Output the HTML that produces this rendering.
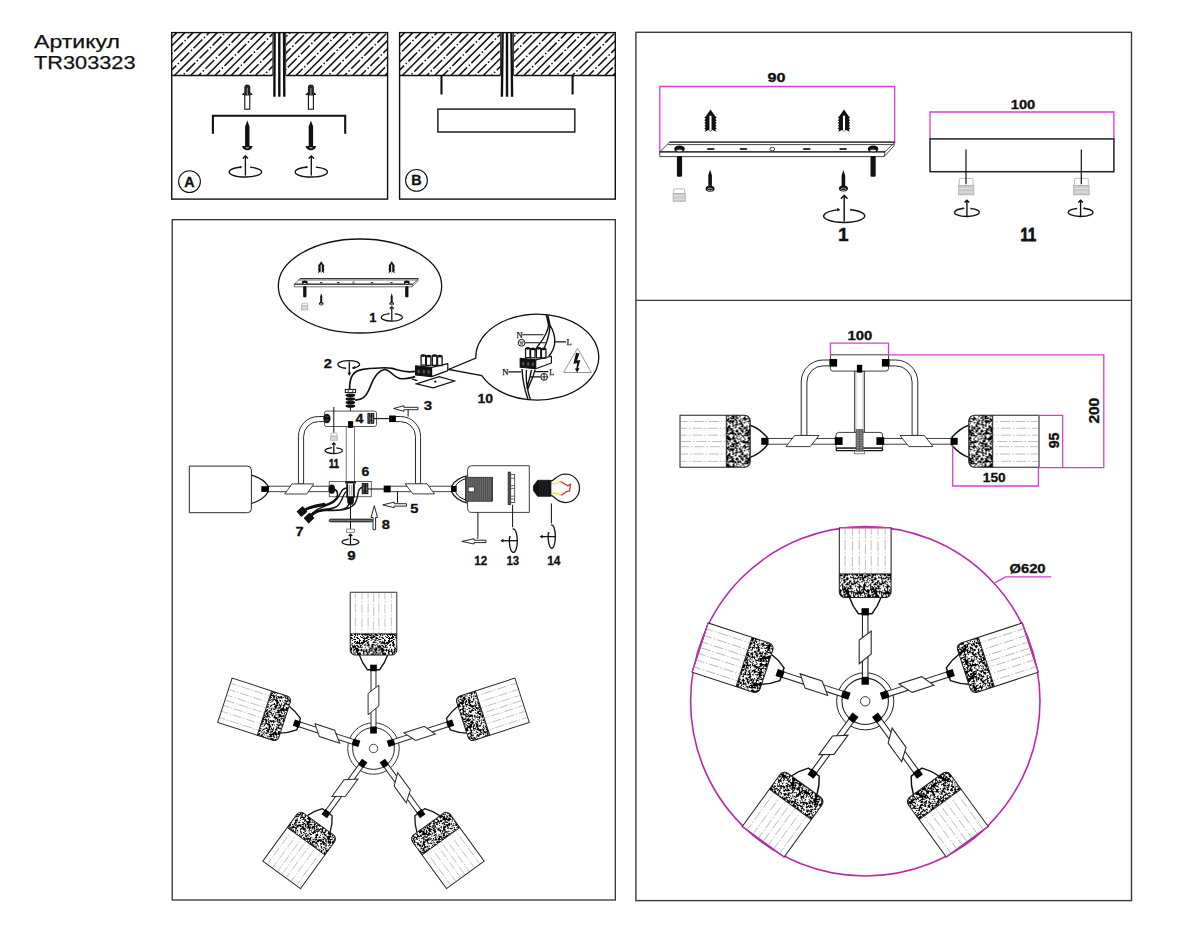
<!DOCTYPE html>
<html lang="ru"><head><meta charset="utf-8"><title>TR303323</title>
<style>html,body{margin:0;padding:0;background:#fff}svg{display:block}</style></head>
<body>
<svg width="1200" height="933" viewBox="0 0 1200 933">
<defs>
<pattern id="spk" width="28" height="28" patternUnits="userSpaceOnUse"><rect width="28" height="28" fill="#fff"/><path d="M17.4,20.8l0.4,-1.3M20.7,-2.2l0.6,0.1M20.7,25.8l0.6,0.1M-1.6,18.2l0.1,-0.1M26.4,18.2l0.1,-0.1M13.1,6.9l-0.8,-0.2M0.4,6.1l-0.2,1.3M28.4,6.1l-0.2,1.3M21.4,4.5l0.1,-0.2M17.3,3.5l1.2,0.0M5.9,6.0l1.2,-0.1M8.1,-1.1l-0.9,-0.2M8.1,26.9l-0.9,-0.2M5.7,-1.7l-0.5,-1.3M5.7,26.3l-0.5,-1.3M25.0,8.4l-0.1,0.2M4.1,1.8l-0.3,0.8M4.1,29.8l-0.3,0.8M0.1,19.0l-0.2,0.4M28.1,19.0l-0.2,0.4M22.9,13.5l-0.3,0.6M19.7,1.6l0.0,-0.0M19.7,29.6l0.0,-0.0M21.0,23.7l1.1,0.1M10.3,16.2l0.1,0.0M5.1,-1.3l0.3,1.0M5.1,26.7l0.3,1.0M-2.0,-1.6l-0.3,0.4M-2.0,26.4l-0.3,0.4M26.0,-1.6l-0.3,0.4M26.0,26.4l-0.3,0.4M14.7,21.7l0.8,0.7M22.3,24.1l1.3,0.3M2.6,9.5l-1.0,-0.8M9.5,-2.1l-0.4,-0.1M9.5,25.9l-0.4,-0.1M8.9,5.0l0.2,0.1M19.3,-0.1l0.0,0.1M19.3,27.9l0.0,0.1M-0.4,14.9l-0.3,0.2M27.6,14.9l-0.3,0.2M16.6,23.1l-0.6,0.2M1.6,-2.4l0.7,0.1M1.6,25.6l0.7,0.1M29.6,-2.4l0.7,0.1M29.6,25.6l0.7,0.1M23.5,3.7l-0.2,-1.3M17.7,22.1l0.5,0.4M4.2,23.7l-0.2,0.6M-0.0,23.9l0.6,-0.1M28.0,23.9l0.6,-0.1M13.7,20.4l-0.4,0.1M11.3,4.1l-1.0,1.0M-1.1,17.6l-0.5,0.0M26.9,17.6l-0.5,0.0M2.5,7.6l0.2,-1.2M30.5,7.6l0.2,-1.2M10.1,22.0l0.2,-1.0M18.6,21.3l-0.6,0.7M7.9,13.6l0.1,-1.0M8.2,-1.5l-0.5,-0.7M8.2,26.5l-0.5,-0.7M0.3,15.3l-0.0,0.9M28.3,15.3l-0.0,0.9M13.0,22.9l-0.7,-0.9M9.7,18.0l-0.1,-1.2M9.8,23.6l0.7,-0.7M-0.7,-1.2l-0.7,-0.1M-0.7,26.8l-0.7,-0.1M27.3,-1.2l-0.7,-0.1M27.3,26.8l-0.7,-0.1M4.7,23.4l0.6,-0.3M19.4,20.2l-0.0,-0.2M21.9,16.3l-0.3,-0.5M17.5,21.7l-0.7,-0.8M0.8,4.5l-0.8,0.3M28.8,4.5l-0.8,0.3M6.1,19.2l-0.0,-0.0M13.2,6.3l0.2,0.1M8.9,5.1l0.0,0.0M13.0,10.6l-0.6,-0.5M6.7,25.3l0.6,0.0M7.8,11.5l0.9,0.8M10.5,1.0l-0.1,-0.1M10.5,29.0l-0.1,-0.1M15.3,9.5l-1.2,-0.7M22.9,11.7l0.3,-0.8M10.3,4.0l-0.7,-0.4M-1.2,-0.9l-0.4,-0.3M-1.2,27.1l-0.4,-0.3M26.8,-0.9l-0.4,-0.3M26.8,27.1l-0.4,-0.3M25.0,0.0l0.6,0.5M25.0,28.0l0.6,0.5M17.2,3.9l-0.9,-0.9M10.5,12.1l0.1,0.4M-0.8,10.6l1.2,-0.3M27.2,10.6l1.2,-0.3M16.7,7.3l0.7,-0.1M11.6,8.9l0.7,-0.1M8.0,13.4l0.6,0.6M12.4,8.2l0.2,-1.1M0.4,14.9l-0.2,1.3M28.4,14.9l-0.2,1.3M21.9,6.9l-0.0,0.2M-0.3,8.2l-0.5,-0.4M27.7,8.2l-0.5,-0.4M18.1,16.9l-0.0,-0.2M21.3,8.4l-0.5,-0.1M8.3,14.8l-0.5,0.1M20.9,16.5l0.3,0.1M12.8,-2.3l0.6,-0.5M12.8,25.7l0.6,-0.5M0.4,21.8l-0.7,0.4M28.4,21.8l-0.7,0.4M19.8,17.7l-1.3,0.1M10.8,11.0l0.2,-0.2M8.3,23.2l1.1,0.5M19.4,12.1l-0.2,1.1M25.5,4.0l-0.8,0.1M13.9,9.3l0.5,0.7M22.7,1.9l0.1,1.1M22.7,29.9l0.1,1.1M22.2,18.6l1.0,0.2M-0.6,-0.0l-0.0,-0.1M-0.6,28.0l-0.0,-0.1M27.4,-0.0l-0.0,-0.1M27.4,28.0l-0.0,-0.1M23.6,6.1l-0.8,-1.1M19.9,3.8l-0.3,1.2M4.2,17.1l-0.2,0.1M17.4,1.2l0.4,0.3M17.4,29.2l0.4,0.3M2.0,1.6l-0.9,-0.5M2.0,29.6l-0.9,-0.5M30.0,1.6l-0.9,-0.5M30.0,29.6l-0.9,-0.5M24.6,3.8l-0.4,0.2M16.8,13.7l0.5,-0.2M1.6,19.5l0.5,0.7M29.6,19.5l0.5,0.7M14.2,25.5l-0.8,-0.3M7.4,15.4l-0.0,1.1M14.5,3.7l0.1,0.5M20.6,5.0l-0.2,-0.9M2.4,18.7l0.1,0.1M30.4,18.7l0.1,0.1M16.6,6.7l0.5,-0.5M9.1,22.3l1.0,0.2M1.5,4.2l0.9,-0.3M29.5,4.2l0.9,-0.3M6.2,3.3l0.9,-0.2M23.0,3.9l-0.4,-0.4M6.6,9.3l-0.4,-0.3M10.8,3.8l0.4,-0.8M22.5,12.1l0.4,-0.6M16.6,16.1l-0.0,-0.6M2.7,0.9l0.0,0.1M2.7,28.9l0.0,0.1M24.9,13.5l0.0,-0.0M13.2,24.9l-0.4,-0.4M13.0,2.8l0.1,0.2M10.5,10.8l0.2,-0.1M7.1,7.8l0.2,0.3M6.6,13.5l1.3,0.3M10.3,-1.7l-0.4,-0.9M10.3,26.3l-0.4,-0.9M13.2,-1.5l0.7,0.6M13.2,26.5l0.7,0.6M8.2,18.9l-0.0,-0.2M5.6,0.7l0.0,0.1M5.6,28.7l0.0,0.1M11.2,-0.7l-0.3,0.3M11.2,27.3l-0.3,0.3M13.1,7.9l-0.1,-1.0M4.6,6.7l-0.6,-1.2M18.1,12.1l0.0,-0.0M1.7,21.8l-0.1,0.0M29.7,21.8l-0.1,0.0M15.4,-0.3l-0.5,-0.1M15.4,27.7l-0.5,-0.1M2.6,2.0l0.6,-0.4M2.6,30.0l0.6,-0.4M-1.8,1.5l0.0,0.1M-1.8,29.5l0.0,0.1M26.2,1.5l0.0,0.1M26.2,29.5l0.0,0.1M11.1,1.7l-0.0,0.6M11.1,29.7l-0.0,0.6M8.6,1.4l1.3,0.3M8.6,29.4l1.3,0.3M5.0,14.2l-0.6,0.4M2.4,8.8l0.6,0.5M30.4,8.8l0.6,0.5M-2.2,16.8l0.2,-0.2M25.8,16.8l0.2,-0.2M0.5,15.1l-0.8,0.1M28.5,15.1l-0.8,0.1M10.5,17.5l-0.2,-1.3M8.6,12.6l0.1,-0.3M3.2,8.7l0.9,0.6M22.9,8.8l0.1,0.1M6.9,2.4l-0.7,0.4M6.9,30.4l-0.7,0.4M6.9,1.7l-0.0,-0.1M6.9,29.7l-0.0,-0.1M5.6,8.0l-0.1,0.1M11.8,8.8l0.0,-0.8M25.1,18.3l0.0,-0.8M12.4,22.9l-0.7,-1.1M20.4,19.6l-0.1,1.1M10.7,3.6l0.2,0.1M7.4,18.9l-0.0,0.1M21.4,15.6l0.1,0.0M3.6,10.0l0.8,-1.0M17.1,6.5l-0.5,0.2M9.3,0.3l-1.0,-0.6M9.3,28.3l-1.0,-0.6M20.4,2.7l-0.2,-0.0M19.9,12.5l1.0,-0.4M3.3,8.9l0.6,-0.3M12.2,12.4l0.1,-1.3M14.9,-0.8l-0.1,-0.1M14.9,27.2l-0.1,-0.1M22.8,11.7l1.3,0.4M0.9,16.2l-1.2,0.1M28.9,16.2l-1.2,0.1M11.0,6.0l-0.0,0.3M15.7,10.0l0.0,-0.3M9.8,7.0l1.2,-0.1M23.8,17.3l-0.2,0.1M23.3,13.7l0.2,0.1M2.8,20.1l0.2,-0.2M22.3,9.1l-0.5,-1.1M17.4,22.4l-0.0,0.0M14.3,16.4l0.2,0.5M8.9,0.8l-0.2,0.5M8.9,28.8l-0.2,0.5M13.3,19.7l-1.1,0.8M22.8,-2.1l-0.3,-0.9M22.8,25.9l-0.3,-0.9M15.0,22.4l-0.5,0.6M19.0,14.6l-0.0,0.1M2.4,10.0l-0.9,-0.5M30.4,10.0l-0.9,-0.5M20.0,8.6l0.3,-0.2M20.0,2.0l0.0,-0.9M20.0,30.0l0.0,-0.9M-1.2,25.1l-0.4,-1.1M26.8,25.1l-0.4,-1.1M20.7,17.1l0.2,0.7M25.1,6.7l0.8,-0.1M11.0,0.1l-0.2,0.2M11.0,28.1l-0.2,0.2M18.3,25.2l0.7,-0.5M10.8,3.0l-0.3,-0.7M20.0,10.5l0.2,-0.2M8.6,7.5l-0.9,-0.9M4.7,17.7l0.0,-0.3M1.8,15.8l0.6,-1.1M29.8,15.8l0.6,-1.1M20.4,11.7l-0.7,0.3M25.3,8.5l-0.2,0.8M-0.9,5.2l0.2,0.0M27.1,5.2l0.2,0.0M15.8,16.9l0.1,0.2M16.6,18.1l-0.4,-0.9M1.7,13.6l0.7,-1.2M29.7,13.6l0.7,-1.2M8.9,23.8l-0.8,-1.0M6.4,19.5l0.4,-0.6M2.8,5.4l0.1,0.1M4.3,17.2l0.8,0.6M20.6,22.9l0.3,-0.9M-2.1,-1.2l-1.0,-1.0M-2.1,26.8l-1.0,-1.0M25.9,-1.2l-1.0,-1.0M25.9,26.8l-1.0,-1.0M2.9,2.9l0.3,0.1M10.5,12.8l-0.4,-0.9M2.3,11.3l-0.5,-0.1M30.3,11.3l-0.5,-0.1M3.3,16.7l-0.7,0.7M13.9,-1.0l0.1,-0.0M13.9,27.0l0.1,-0.0M21.3,20.2l-0.0,0.2M13.4,9.9l-0.1,-1.3M10.7,8.1l-1.0,0.0M22.1,16.1l-0.1,0.5M23.7,14.5l0.6,0.2M6.7,18.7l0.3,0.2M2.7,13.4l0.8,-0.1M10.8,-1.9l0.4,0.3M10.8,26.1l0.4,0.3M22.7,0.1l0.1,-0.5M22.7,28.1l0.1,-0.5M0.5,7.0l-0.5,0.1M28.5,7.0l-0.5,0.1M14.5,1.5l0.3,1.3M14.5,29.5l0.3,1.3M12.4,13.2l0.3,0.2M-1.3,19.2l-0.1,-0.0M26.7,19.2l-0.1,-0.0M11.0,21.8l-0.8,0.3M25.3,18.1l-0.0,-0.0M0.7,21.5l-1.0,0.6M28.7,21.5l-1.0,0.6M23.1,-2.4l-1.0,1.0M23.1,25.6l-1.0,1.0M21.2,25.0l0.7,0.9M11.8,-0.8l0.3,-0.0M11.8,27.2l0.3,-0.0M11.8,7.6l-0.4,0.1M18.7,3.5l0.3,0.6M2.1,10.7l1.0,-0.7M30.1,10.7l1.0,-0.7M5.5,0.5l0.6,-1.2M5.5,28.5l0.6,-1.2M16.8,3.8l0.1,1.3M-1.7,0.9l0.2,0.6M-1.7,28.9l0.2,0.6M26.3,0.9l0.2,0.6M26.3,28.9l0.2,0.6M7.5,21.1l-0.8,0.8M4.3,14.5l1.0,-0.2M2.5,3.1l-0.3,-0.4M10.3,13.4l-1.2,-0.7M6.7,15.9l-0.1,0.8M20.5,3.7l-1.0,0.1M0.2,21.6l-0.6,0.3M28.2,21.6l-0.6,0.3M17.1,22.2l0.7,0.2M1.1,10.8l-0.0,0.0M29.1,10.8l-0.0,0.0M8.3,12.6l-0.7,-1.1M10.4,14.8l-0.3,-1.3M-1.4,-0.3l-0.1,0.2M-1.4,27.7l-0.1,0.2M26.6,-0.3l-0.1,0.2M26.6,27.7l-0.1,0.2M-1.9,2.2l-1.0,0.3M-1.9,30.2l-1.0,0.3M26.1,2.2l-1.0,0.3M26.1,30.2l-1.0,0.3M14.8,10.9l0.4,-0.2M15.4,23.2l0.3,0.4M13.8,15.8l0.2,0.6M1.7,2.5l-0.1,0.2M1.7,30.5l-0.1,0.2M29.7,2.5l-0.1,0.2M29.7,30.5l-0.1,0.2M-0.9,7.4l-0.2,1.1M27.1,7.4l-0.2,1.1M20.8,7.3l0.4,-0.8M10.9,17.6l0.0,0.4M24.5,12.3l0.2,-0.1M3.8,1.5l-0.1,-0.8M3.8,29.5l-0.1,-0.8M0.3,1.2l0.3,-0.6M0.3,29.2l0.3,-0.6M28.3,1.2l0.3,-0.6M28.3,29.2l0.3,-0.6M24.4,1.1l-0.1,-0.1M24.4,29.1l-0.1,-0.1M20.2,17.1l-0.2,-0.2M-1.4,3.1l0.9,0.4M26.6,3.1l0.9,0.4M2.6,1.9l-0.9,0.2M2.6,29.9l-0.9,0.2M25.0,20.2l0.8,0.4M23.6,3.4l0.0,-0.4M8.4,0.0l0.0,-0.7M8.4,28.0l0.0,-0.7M25.3,13.0l0.2,0.3M7.4,-1.5l0.0,0.1M7.4,26.5l0.0,0.1M9.9,2.2l-0.8,0.4M9.9,30.2l-0.8,0.4M18.2,4.9l0.4,0.5M19.2,12.5l-1.1,-0.6M4.1,7.5l-0.7,0.0M25.2,15.5l-0.3,-0.5M22.0,23.4l-0.0,0.1M7.3,10.0l0.3,-0.2M17.6,17.9l0.2,-0.0M21.6,9.4l0.7,0.5M23.6,16.3l1.3,0.4M10.8,17.8l-0.1,-0.4M11.4,9.2l0.1,0.1M20.1,11.5l0.1,-0.1M8.4,5.0l1.0,-0.4M25.1,14.2l0.5,0.4M6.3,0.8l-0.4,-0.2M6.3,28.8l-0.4,-0.2M3.0,14.3l1.2,-0.5M13.1,2.9l0.0,-0.2M15.0,2.3l0.8,-0.1M15.0,30.3l0.8,-0.1M12.2,7.6l-1.3,-0.4M12.0,5.9l-1.3,-0.1M10.7,17.7l0.4,-0.2M22.7,14.8l0.0,0.1M-1.7,13.0l-1.2,0.4M26.3,13.0l-1.2,0.4M16.1,14.0l-0.2,1.0M7.2,13.2l0.0,-0.8M3.8,5.7l-0.3,-1.0M2.9,-0.1l0.2,0.2M2.9,27.9l0.2,0.2M2.5,12.5l-0.9,-0.8M4.6,19.6l0.6,0.5M7.1,10.0l1.0,0.3M3.4,21.4l-0.4,0.7M17.9,13.7l0.9,-0.9M7.9,9.3l0.1,-0.1M11.8,11.6l0.2,-0.0M18.3,21.2l-0.0,-0.0M-1.6,8.7l0.6,-0.7M26.4,8.7l0.6,-0.7M11.8,23.5l-0.2,-0.4M20.5,14.1l-0.2,-0.8M22.3,4.5l-0.0,0.0M22.1,21.6l0.0,-0.1M15.0,13.4l0.2,0.2M-0.7,23.9l0.1,1.2M27.3,23.9l0.1,1.2M18.2,10.8l-0.2,-0.3M7.7,0.3l-0.5,-0.7M7.7,28.3l-0.5,-0.7M20.8,14.1l-0.4,0.2M20.6,10.4l-0.9,-0.6M12.4,19.2l0.3,0.1M23.5,4.1l0.0,0.0M21.5,3.0l-0.6,0.2M22.5,13.3l-0.0,-0.0M22.3,21.5l-0.8,-0.8M17.2,20.0l0.5,-0.7M0.6,24.8l0.3,-0.0M28.6,24.8l0.3,-0.0M1.8,9.5l0.4,0.3M29.8,9.5l0.4,0.3M2.5,6.2l0.6,0.0M30.5,6.2l0.6,0.0M8.4,20.4l-0.2,0.1M-1.3,25.0l-0.1,-0.3M26.7,25.0l-0.1,-0.3M11.3,12.6l-0.0,0.0M12.8,21.5l-0.4,-1.1M19.1,21.4l0.9,-0.9" stroke="#000" stroke-width="1" stroke-linecap="square" shape-rendering="crispEdges" fill="none"/></pattern>
</defs>
<rect width="1200" height="933" fill="#fff"/>
<!-- frames -->
<rect x="172.2" y="219.7" width="443.1" height="680.3" fill="none" stroke="#222" stroke-width="1.2"/>
<rect x="635.9" y="32.3" width="495.6" height="868.3" fill="none" stroke="#3a3a3a" stroke-width="1.4"/>
<path d="M635.9,300.3 H1131.5" stroke="#3a3a3a" stroke-width="1.3"/>
<!-- top-left -->
<text x="34.00" y="47.60" font-family="'Liberation Sans', sans-serif" font-size="18.43" stroke="#111" stroke-width="0.25" fill="#111" text-anchor="start" textLength="86.00" lengthAdjust="spacingAndGlyphs" >Артикул</text>

<text x="34.00" y="68.80" font-family="'Liberation Sans', sans-serif" font-size="18.86" stroke="#111" stroke-width="0.25" fill="#111" text-anchor="start" textLength="101.50" lengthAdjust="spacingAndGlyphs" >TR303323</text>

<rect x="171.7" y="32.6" width="215.9" height="166.5" fill="#fff" stroke="#111" stroke-width="1.4"/>
<clipPath id="hA"><rect x="171.70" y="32.60" width="100.90" height="42.90"/><rect x="285.90" y="32.60" width="101.70" height="42.90"/></clipPath>
<g clip-path="url(#hA)" stroke="#111" stroke-width="1.5" fill="none">
<path d="M125.80,75.50 L168.70,32.60"/>
<path d="M133.90,75.50 L176.80,32.60" stroke-dasharray="12.5 2.2 1.6 2.2" stroke-dashoffset="7"/>
<path d="M142.00,75.50 L184.90,32.60"/>
<path d="M150.10,75.50 L193.00,32.60" stroke-dasharray="12.5 2.2 1.6 2.2" stroke-dashoffset="3"/>
<path d="M158.20,75.50 L201.10,32.60"/>
<path d="M166.30,75.50 L209.20,32.60" stroke-dasharray="12.5 2.2 1.6 2.2" stroke-dashoffset="17"/>
<path d="M174.40,75.50 L217.30,32.60"/>
<path d="M182.50,75.50 L225.40,32.60" stroke-dasharray="12.5 2.2 1.6 2.2" stroke-dashoffset="13"/>
<path d="M190.60,75.50 L233.50,32.60"/>
<path d="M198.70,75.50 L241.60,32.60" stroke-dasharray="12.5 2.2 1.6 2.2" stroke-dashoffset="9"/>
<path d="M206.80,75.50 L249.70,32.60"/>
<path d="M214.90,75.50 L257.80,32.60" stroke-dasharray="12.5 2.2 1.6 2.2" stroke-dashoffset="5"/>
<path d="M223.00,75.50 L265.90,32.60"/>
<path d="M231.10,75.50 L274.00,32.60" stroke-dasharray="12.5 2.2 1.6 2.2" stroke-dashoffset="1"/>
<path d="M239.20,75.50 L282.10,32.60"/>
<path d="M247.30,75.50 L290.20,32.60" stroke-dasharray="12.5 2.2 1.6 2.2" stroke-dashoffset="15"/>
<path d="M255.40,75.50 L298.30,32.60"/>
<path d="M263.50,75.50 L306.40,32.60" stroke-dasharray="12.5 2.2 1.6 2.2" stroke-dashoffset="11"/>
<path d="M271.60,75.50 L314.50,32.60"/>
<path d="M279.70,75.50 L322.60,32.60" stroke-dasharray="12.5 2.2 1.6 2.2" stroke-dashoffset="7"/>
<path d="M287.80,75.50 L330.70,32.60"/>
<path d="M295.90,75.50 L338.80,32.60" stroke-dasharray="12.5 2.2 1.6 2.2" stroke-dashoffset="3"/>
<path d="M304.00,75.50 L346.90,32.60"/>
<path d="M312.10,75.50 L355.00,32.60" stroke-dasharray="12.5 2.2 1.6 2.2" stroke-dashoffset="17"/>
<path d="M320.20,75.50 L363.10,32.60"/>
<path d="M328.30,75.50 L371.20,32.60" stroke-dasharray="12.5 2.2 1.6 2.2" stroke-dashoffset="13"/>
<path d="M336.40,75.50 L379.30,32.60"/>
<path d="M344.50,75.50 L387.40,32.60" stroke-dasharray="12.5 2.2 1.6 2.2" stroke-dashoffset="9"/>
<path d="M352.60,75.50 L395.50,32.60"/>
<path d="M360.70,75.50 L403.60,32.60" stroke-dasharray="12.5 2.2 1.6 2.2" stroke-dashoffset="5"/>
<path d="M368.80,75.50 L411.70,32.60"/>
<path d="M376.90,75.50 L419.80,32.60" stroke-dasharray="12.5 2.2 1.6 2.2" stroke-dashoffset="1"/>
<path d="M385.00,75.50 L427.90,32.60"/>
</g>

<path d="M171.7,75.5 H272.6 M285.9,75.5 H387.6" stroke="#111" stroke-width="1.3"/>
<path d="M274.6,32.6 L274.4,96.8 M279.3,32.6 V96.8 M284.0,32.6 L284.3,96.8" stroke="#111" stroke-width="2.4" fill="none"/>
<path d="M272.9,33 V75.5 M285.7,33 V75.5" stroke="#111" stroke-width="0.9"/>
<path d="M244.30,95.40 v-8.00 a3.00,3.00 0 0 1 6.00,0 v8.00 z" fill="#222"/>
<path d="M244.30,91.90 l-2.6,3 h2.6z M250.30,91.90 l2.6,3 h-2.6z" fill="#111"/>
<rect x="244.80" y="94.90" width="5.00" height="14.30" fill="#fff" stroke="#111" stroke-width="1.1"/>
<path d="M247.30,87.90 v7" stroke="#999" stroke-width="1"/>

<path d="M247.30,120.40 L249.50,126.40 V146.00 H245.10 V126.40 z" fill="#111"/>
<path d="M242.10,146.00 h10.4 a5.2,4.20 0 0 1 -10.4,0z" fill="#111"/>
<path d="M245.80,147.80 h3" stroke="#fff" stroke-width="0.8"/>

<path d="M307.90,95.40 v-8.00 a3.00,3.00 0 0 1 6.00,0 v8.00 z" fill="#222"/>
<path d="M307.90,91.90 l-2.6,3 h2.6z M313.90,91.90 l2.6,3 h-2.6z" fill="#111"/>
<rect x="308.40" y="94.90" width="5.00" height="14.30" fill="#fff" stroke="#111" stroke-width="1.1"/>
<path d="M310.90,87.90 v7" stroke="#999" stroke-width="1"/>

<path d="M310.90,120.40 L313.10,126.40 V146.00 H308.70 V126.40 z" fill="#111"/>
<path d="M305.70,146.00 h10.4 a5.2,4.20 0 0 1 -10.4,0z" fill="#111"/>
<path d="M309.40,147.80 h3" stroke="#fff" stroke-width="0.8"/>

<path d="M212.9,133.8 V115.7 H345.2 V133.8" fill="none" stroke="#111" stroke-width="2.1"/>
<path d="M249.94,167.20 A16.20,5.00 0 1 1 240.05,167.28" fill="none" stroke="#111" stroke-width="1.35"/>
<path d="M242.39,167.08 l-2.60,-1.43 l0.20,2.86 z" fill="#111"/>
<path d="M245.40,175.60 V156.50" stroke="#111" stroke-width="1.35" fill="none"/>
<path d="M242.80,158.60 L245.40,156.00 L248.00,158.60" stroke="#111" stroke-width="1.35" fill="none" stroke-linejoin="miter"/>

<path d="M315.84,167.20 A16.20,5.00 0 1 1 305.95,167.28" fill="none" stroke="#111" stroke-width="1.35"/>
<path d="M308.29,167.08 l-2.60,-1.43 l0.20,2.86 z" fill="#111"/>
<path d="M311.30,175.60 V156.50" stroke="#111" stroke-width="1.35" fill="none"/>
<path d="M308.70,158.60 L311.30,156.00 L313.90,158.60" stroke="#111" stroke-width="1.35" fill="none" stroke-linejoin="miter"/>

<circle cx="189.50" cy="181.60" r="10.90" fill="#fff" stroke="#111" stroke-width="1.1"/>
<text x="189.50" y="186.60" font-family="'Liberation Sans', sans-serif" font-size="14.29" font-weight="bold" stroke="#111" stroke-width="0.35" fill="#111" text-anchor="middle" >A</text>

<rect x="399.6" y="32.6" width="215.7" height="166.5" fill="#fff" stroke="#111" stroke-width="1.4"/>
<clipPath id="hB"><rect x="399.60" y="32.60" width="100.70" height="42.90"/><rect x="513.60" y="32.60" width="101.70" height="42.90"/></clipPath>
<g clip-path="url(#hB)" stroke="#111" stroke-width="1.5" fill="none">
<path d="M353.70,75.50 L396.60,32.60"/>
<path d="M361.80,75.50 L404.70,32.60" stroke-dasharray="12.5 2.2 1.6 2.2" stroke-dashoffset="7"/>
<path d="M369.90,75.50 L412.80,32.60"/>
<path d="M378.00,75.50 L420.90,32.60" stroke-dasharray="12.5 2.2 1.6 2.2" stroke-dashoffset="3"/>
<path d="M386.10,75.50 L429.00,32.60"/>
<path d="M394.20,75.50 L437.10,32.60" stroke-dasharray="12.5 2.2 1.6 2.2" stroke-dashoffset="17"/>
<path d="M402.30,75.50 L445.20,32.60"/>
<path d="M410.40,75.50 L453.30,32.60" stroke-dasharray="12.5 2.2 1.6 2.2" stroke-dashoffset="13"/>
<path d="M418.50,75.50 L461.40,32.60"/>
<path d="M426.60,75.50 L469.50,32.60" stroke-dasharray="12.5 2.2 1.6 2.2" stroke-dashoffset="9"/>
<path d="M434.70,75.50 L477.60,32.60"/>
<path d="M442.80,75.50 L485.70,32.60" stroke-dasharray="12.5 2.2 1.6 2.2" stroke-dashoffset="5"/>
<path d="M450.90,75.50 L493.80,32.60"/>
<path d="M459.00,75.50 L501.90,32.60" stroke-dasharray="12.5 2.2 1.6 2.2" stroke-dashoffset="1"/>
<path d="M467.10,75.50 L510.00,32.60"/>
<path d="M475.20,75.50 L518.10,32.60" stroke-dasharray="12.5 2.2 1.6 2.2" stroke-dashoffset="15"/>
<path d="M483.30,75.50 L526.20,32.60"/>
<path d="M491.40,75.50 L534.30,32.60" stroke-dasharray="12.5 2.2 1.6 2.2" stroke-dashoffset="11"/>
<path d="M499.50,75.50 L542.40,32.60"/>
<path d="M507.60,75.50 L550.50,32.60" stroke-dasharray="12.5 2.2 1.6 2.2" stroke-dashoffset="7"/>
<path d="M515.70,75.50 L558.60,32.60"/>
<path d="M523.80,75.50 L566.70,32.60" stroke-dasharray="12.5 2.2 1.6 2.2" stroke-dashoffset="3"/>
<path d="M531.90,75.50 L574.80,32.60"/>
<path d="M540.00,75.50 L582.90,32.60" stroke-dasharray="12.5 2.2 1.6 2.2" stroke-dashoffset="17"/>
<path d="M548.10,75.50 L591.00,32.60"/>
<path d="M556.20,75.50 L599.10,32.60" stroke-dasharray="12.5 2.2 1.6 2.2" stroke-dashoffset="13"/>
<path d="M564.30,75.50 L607.20,32.60"/>
<path d="M572.40,75.50 L615.30,32.60" stroke-dasharray="12.5 2.2 1.6 2.2" stroke-dashoffset="9"/>
<path d="M580.50,75.50 L623.40,32.60"/>
<path d="M588.60,75.50 L631.50,32.60" stroke-dasharray="12.5 2.2 1.6 2.2" stroke-dashoffset="5"/>
<path d="M596.70,75.50 L639.60,32.60"/>
<path d="M604.80,75.50 L647.70,32.60" stroke-dasharray="12.5 2.2 1.6 2.2" stroke-dashoffset="1"/>
<path d="M612.90,75.50 L655.80,32.60"/>
</g>

<path d="M399.6,75.5 H500.3 M513.6,75.5 H615.3" stroke="#111" stroke-width="1.3"/>
<path d="M502.6,32.6 L501.9,96.8 M507,32.6 V96.8 M511.4,32.6 L512.1,96.8" stroke="#111" stroke-width="2.4" fill="none"/>
<path d="M500.6,33 V75.5 M513.4,33 V75.5" stroke="#111" stroke-width="0.9"/>
<path d="M441.5,75.5 V94.5 M572.6,75.5 V94.5" stroke="#111" stroke-width="2.1"/>
<rect x="437.9" y="109.1" width="136.9" height="22.9" fill="#fff" stroke="#111" stroke-width="1.4"/>
<circle cx="416.50" cy="180.40" r="10.90" fill="#fff" stroke="#111" stroke-width="1.1"/>
<text x="416.50" y="185.40" font-family="'Liberation Sans', sans-serif" font-size="14.29" font-weight="bold" stroke="#111" stroke-width="0.35" fill="#111" text-anchor="middle" >B</text>

<!-- top-right -->
<path d="M659.8,153.2 V86.5 H894.7 V143.8" fill="none" stroke="#d63cd6" stroke-width="1.3"/>
<text x="776.50" y="81.90" font-family="'Liberation Sans', sans-serif" font-size="13.29" font-weight="bold" stroke="#111" stroke-width="0.33" fill="#111" text-anchor="middle" textLength="18.0" lengthAdjust="spacingAndGlyphs">90</text>

<path d="M710.50,109.40 L715.08,116.09 L716.60,117.59 L715.26,118.81 L716.60,120.31 L715.26,121.53 L716.60,123.03 L715.26,124.26 L716.60,125.75 L715.26,126.98 L716.60,128.48 L715.26,129.70 L716.60,131.70 L712.33,130.10 L710.50,131.70 L708.67,130.10 L704.40,131.70 L705.74,129.70 L704.40,128.48 L705.74,126.98 L704.40,125.75 L705.74,124.26 L704.40,123.03 L705.74,121.53 L704.40,120.31 L705.74,118.81 L704.40,117.59 L705.92,116.09 L710.50,109.40z" fill="#111"/>
<rect x="709.46" y="115.42" width="2.07" height="15.61" rx="1.04" fill="#fff"/>

<path d="M844.00,109.40 L848.58,116.09 L850.10,117.59 L848.76,118.81 L850.10,120.31 L848.76,121.53 L850.10,123.03 L848.76,124.26 L850.10,125.75 L848.76,126.98 L850.10,128.48 L848.76,129.70 L850.10,131.70 L845.83,130.10 L844.00,131.70 L842.17,130.10 L837.90,131.70 L839.24,129.70 L837.90,128.48 L839.24,126.98 L837.90,125.75 L839.24,124.26 L837.90,123.03 L839.24,121.53 L837.90,120.31 L839.24,118.81 L837.90,117.59 L839.42,116.09 L844.00,109.40z" fill="#111"/>
<rect x="842.96" y="115.42" width="2.07" height="15.61" rx="1.04" fill="#fff"/>

<path d="M659.80,151.90 L669.50,142.10 H894.70 L885.00,151.90 z" fill="#fff" stroke="#333" stroke-width="0.90" stroke-linejoin="round"/>
<path d="M668.00,144.60 H894.70" stroke="#333" stroke-width="0.90"/>
<path d="M669.50,142.10 H894.70" stroke="#333" stroke-width="1.26"/>
<path d="M659.80,151.90 H885.00 L884.20,156.60 H659.80 z" fill="#fff" stroke="#333" stroke-width="0.90" stroke-linejoin="round"/>
<path d="M884.20,156.60 L894.70,145.10" stroke="#333" stroke-width="0.90"/>
<path d="M659.80,151.90 H885.00" stroke="#333" stroke-width="1.35"/>
<rect x="707.00" y="148.10" width="7.60" height="2.00" rx="1.00" fill="#333"/>
<rect x="739.60" y="148.10" width="7.60" height="2.00" rx="1.00" fill="#333"/>
<ellipse cx="772.30" cy="149.10" rx="2.43" ry="1.70" fill="#fff" stroke="#333" stroke-width="0.90"/>
<rect x="803.00" y="148.10" width="7.60" height="2.00" rx="1.00" fill="#333"/>
<rect x="839.30" y="148.10" width="7.60" height="2.00" rx="1.00" fill="#333"/>
<rect x="676.90" y="156.10" width="5.20" height="20.70" rx="1.30" fill="#111"/>
<ellipse cx="679.50" cy="148.90" rx="5.30" ry="3.30" fill="#111"/>
<ellipse cx="679.50" cy="150.59" rx="3.18" ry="0.99" fill="#ddd"/>
<rect x="870.50" y="156.10" width="5.20" height="20.70" rx="1.30" fill="#111"/>
<ellipse cx="873.10" cy="148.90" rx="5.30" ry="3.30" fill="#111"/>
<ellipse cx="873.10" cy="150.59" rx="3.18" ry="0.99" fill="#ddd"/>

<rect x="673.74" y="188.90" width="10.91" height="4.70" rx="0.8" fill="#fff" stroke="#b5b5b5" stroke-width="0.9"/>
<rect x="673.00" y="193.60" width="12.40" height="7.90" fill="#c9c9c9" stroke="#aaa" stroke-width="0.6"/>
<path d="M674.00,195.97 H684.40 M674.00,199.13 H684.40" stroke="#eee" stroke-width="0.7"/>

<path d="M710.10,169.50 L711.90,175.26 V188.80 H708.30 V175.26 z" fill="#111"/>
<ellipse cx="710.10" cy="188.80" rx="4.50" ry="3.00" fill="#111"/>
<ellipse cx="710.10" cy="189.55" rx="2.48" ry="1.20" fill="none" stroke="#fff" stroke-width="0.6"/>

<path d="M843.40,170.00 L845.20,175.76 V188.60 H841.60 V175.76 z" fill="#111"/>
<ellipse cx="843.40" cy="188.60" rx="4.50" ry="3.00" fill="#111"/>
<ellipse cx="843.40" cy="189.35" rx="2.48" ry="1.20" fill="none" stroke="#fff" stroke-width="0.6"/>

<path d="M849.97,209.76 A20.60,6.50 0 1 1 837.40,209.86" fill="none" stroke="#111" stroke-width="1.45"/>
<path d="M840.37,209.66 l-3.30,-1.81 l0.20,3.63 z" fill="#111"/>
<path d="M844.20,221.40 V195.90" stroke="#111" stroke-width="1.45" fill="none"/>
<path d="M840.90,198.70 L844.20,195.40 L847.50,198.70" stroke="#111" stroke-width="1.45" fill="none" stroke-linejoin="miter"/>

<text x="843.20" y="240.80" font-family="'Liberation Sans', sans-serif" font-size="19.00" font-weight="bold" stroke="#111" stroke-width="0.47" fill="#111" text-anchor="middle" >1</text>

<path d="M930.0,139 V112.0 H1113.9 V139" fill="none" stroke="#d63cd6" stroke-width="1.3"/>
<text x="1023.00" y="108.50" font-family="'Liberation Sans', sans-serif" font-size="13.14" font-weight="bold" stroke="#111" stroke-width="0.32" fill="#111" text-anchor="middle" textLength="24.6" lengthAdjust="spacingAndGlyphs">100</text>

<rect x="930.0" y="138.9" width="183.9" height="32.8" fill="#fff" stroke="#222" stroke-width="1.5"/>
<rect x="959.24" y="178.40" width="13.73" height="7.10" rx="0.8" fill="#fff" stroke="#b5b5b5" stroke-width="0.9"/>
<rect x="958.30" y="185.50" width="15.60" height="9.40" fill="#c9c9c9" stroke="#aaa" stroke-width="0.6"/>
<path d="M959.30,188.32 H972.90 M959.30,192.08 H972.90" stroke="#eee" stroke-width="0.7"/>

<path d="M966.00,149.5 V184.3" stroke="#111" stroke-width="1.2"/>
<rect x="1074.54" y="178.40" width="13.73" height="7.10" rx="0.8" fill="#fff" stroke="#b5b5b5" stroke-width="0.9"/>
<rect x="1073.60" y="185.50" width="15.60" height="9.40" fill="#c9c9c9" stroke="#aaa" stroke-width="0.6"/>
<path d="M1074.60,188.32 H1088.20 M1074.60,192.08 H1088.20" stroke="#eee" stroke-width="0.7"/>

<path d="M1081.30,149.5 V184.3" stroke="#111" stroke-width="1.2"/>
<path d="M970.37,208.46 A12.40,4.10 0 1 1 962.81,208.53" fill="none" stroke="#111" stroke-width="1.40"/>
<path d="M964.88,208.33 l-2.30,-1.26 l0.20,2.53 z" fill="#111"/>
<path d="M966.90,216.40 V200.70" stroke="#111" stroke-width="1.40" fill="none"/>
<path d="M964.60,202.50 L966.90,200.20 L969.20,202.50" stroke="#111" stroke-width="1.40" fill="none" stroke-linejoin="miter"/>

<path d="M1084.69,208.53 A12.40,4.10 0 1 1 1077.13,208.46" fill="none" stroke="#111" stroke-width="1.40"/>
<path d="M1082.62,208.33 l2.30,-1.26 l-0.20,2.53 z" fill="#111"/>
<path d="M1080.60,216.40 V200.70" stroke="#111" stroke-width="1.40" fill="none"/>
<path d="M1078.30,202.50 L1080.60,200.20 L1082.90,202.50" stroke="#111" stroke-width="1.40" fill="none" stroke-linejoin="miter"/>

<text x="1028.30" y="240.90" font-family="'Liberation Sans', sans-serif" font-size="19.00" font-weight="bold" stroke="#111" fill="#111" text-anchor="middle" textLength="15.6" lengthAdjust="spacingAndGlyphs" stroke-width="0.9">11</text>

<!-- right-bottom -->
<circle cx="865.3" cy="701.3" r="174.7" fill="none" stroke="#b92ba4" stroke-width="1.6"/>
<path d="M995.0,582.6 L1005.8,576.9 H1051.3" fill="none" stroke="#d63cd6" stroke-width="1.4"/>
<text x="1009.40" y="572.90" font-family="'Liberation Sans', sans-serif" font-size="13.14" font-weight="bold" stroke="#111" stroke-width="0.32" fill="#111" text-anchor="start" textLength="36.20" lengthAdjust="spacingAndGlyphs" >Ø620</text>

<g transform="translate(865.20,701.30) scale(1.0000)">
<circle r="28.6" fill="#fff" stroke="#222" stroke-width="1"/>
<circle r="23.2" fill="#fff" stroke="#222" stroke-width="1.1"/>
<circle r="4.7" fill="#fff" stroke="#222" stroke-width="0.9"/>
<g transform="rotate(0)">
<rect x="-2.75" y="-86.90" width="5.50" height="62.90" fill="#fff" stroke="#2a2a2a" stroke-width="1.1"/>
<path d="M6.00,-70.30 L6.00,-47.30 L-6.00,-37.50 L-6.00,-61.30z" fill="#fff" stroke="#2a2a2a" stroke-width="1.1" stroke-linejoin="miter"/>
<path d="M-15.75,-103.80 Q-12.76,-95.01 -6.75,-87.50 H6.75 Q12.76,-95.01 15.75,-103.80" fill="#fff" stroke="#111" stroke-width="1.45"/>
<path d="M-25.90,-173.60 H25.90 V-109.30 a5.50,5.50 0 0 1 -5.50,5.50 H-20.40 a5.50,5.50 0 0 1 -5.50,-5.50 z" fill="#fff"/>
<path d="M-25.90,-127.40 H25.90 V-109.30 a5.50,5.50 0 0 1 -5.50,5.50 H-20.40 a5.50,5.50 0 0 1 -5.50,-5.50 z" fill="url(#spk)"/>
<path d="M-20.12,-172.60 V-128.40" stroke="#a2a2a2" stroke-width="0.7" stroke-dasharray="10 2 1.5 2" stroke-dashoffset="4"/>
<path d="M-12.75,-172.60 V-128.40" stroke="#a2a2a2" stroke-width="0.7" stroke-dasharray="10 2 1.5 2" stroke-dashoffset="3"/>
<path d="M-5.98,-172.60 V-128.40" stroke="#a2a2a2" stroke-width="0.7" stroke-dasharray="10 2 1.5 2" stroke-dashoffset="4"/>
<path d="M0.20,-172.60 V-128.40" stroke="#a2a2a2" stroke-width="0.7" stroke-dasharray="10 2 1.5 2" stroke-dashoffset="0"/>
<path d="M5.98,-172.60 V-128.40" stroke="#a2a2a2" stroke-width="0.7" stroke-dasharray="10 2 1.5 2" stroke-dashoffset="4"/>
<path d="M12.75,-172.60 V-128.40" stroke="#a2a2a2" stroke-width="0.7" stroke-dasharray="10 2 1.5 2" stroke-dashoffset="3"/>
<path d="M19.92,-172.60 V-128.40" stroke="#a2a2a2" stroke-width="0.7" stroke-dasharray="10 2 1.5 2" stroke-dashoffset="4"/>
<path d="M-25.90,-127.40 H25.90" stroke="#222" stroke-width="1"/>
<path d="M-25.90,-173.60 H25.90 V-109.30 a5.50,5.50 0 0 1 -5.50,5.50 H-20.40 a5.50,5.50 0 0 1 -5.50,-5.50 z" fill="none" stroke="#222" stroke-width="1.05"/>
<rect x="-3.70" y="-93.10" width="7.40" height="7.20" fill="#000"/>
<rect x="-3.70" y="-24.00" width="7.40" height="7.40" fill="#000"/>

<path d="M-25.9,-173.6 H25.9" stroke="#c038b4" stroke-width="1.3"/>
</g>
<g transform="rotate(72)">
<rect x="-2.75" y="-86.90" width="5.50" height="62.90" fill="#fff" stroke="#2a2a2a" stroke-width="1.1"/>
<path d="M6.00,-70.30 L6.00,-47.30 L-6.00,-37.50 L-6.00,-61.30z" fill="#fff" stroke="#2a2a2a" stroke-width="1.1" stroke-linejoin="miter"/>
<path d="M-15.75,-103.80 Q-12.76,-95.01 -6.75,-87.50 H6.75 Q12.76,-95.01 15.75,-103.80" fill="#fff" stroke="#111" stroke-width="1.45"/>
<path d="M-25.90,-173.60 H25.90 V-109.30 a5.50,5.50 0 0 1 -5.50,5.50 H-20.40 a5.50,5.50 0 0 1 -5.50,-5.50 z" fill="#fff"/>
<path d="M-25.90,-127.40 H25.90 V-109.30 a5.50,5.50 0 0 1 -5.50,5.50 H-20.40 a5.50,5.50 0 0 1 -5.50,-5.50 z" fill="url(#spk)"/>
<path d="M-20.12,-172.60 V-128.40" stroke="#a2a2a2" stroke-width="0.7" stroke-dasharray="10 2 1.5 2" stroke-dashoffset="4"/>
<path d="M-12.75,-172.60 V-128.40" stroke="#a2a2a2" stroke-width="0.7" stroke-dasharray="10 2 1.5 2" stroke-dashoffset="3"/>
<path d="M-5.98,-172.60 V-128.40" stroke="#a2a2a2" stroke-width="0.7" stroke-dasharray="10 2 1.5 2" stroke-dashoffset="4"/>
<path d="M0.20,-172.60 V-128.40" stroke="#a2a2a2" stroke-width="0.7" stroke-dasharray="10 2 1.5 2" stroke-dashoffset="0"/>
<path d="M5.98,-172.60 V-128.40" stroke="#a2a2a2" stroke-width="0.7" stroke-dasharray="10 2 1.5 2" stroke-dashoffset="4"/>
<path d="M12.75,-172.60 V-128.40" stroke="#a2a2a2" stroke-width="0.7" stroke-dasharray="10 2 1.5 2" stroke-dashoffset="3"/>
<path d="M19.92,-172.60 V-128.40" stroke="#a2a2a2" stroke-width="0.7" stroke-dasharray="10 2 1.5 2" stroke-dashoffset="4"/>
<path d="M-25.90,-127.40 H25.90" stroke="#222" stroke-width="1"/>
<path d="M-25.90,-173.60 H25.90 V-109.30 a5.50,5.50 0 0 1 -5.50,5.50 H-20.40 a5.50,5.50 0 0 1 -5.50,-5.50 z" fill="none" stroke="#222" stroke-width="1.05"/>
<rect x="-3.70" y="-93.10" width="7.40" height="7.20" fill="#000"/>
<rect x="-3.70" y="-24.00" width="7.40" height="7.40" fill="#000"/>

<path d="M-25.9,-173.6 H25.9" stroke="#c038b4" stroke-width="1.3"/>
</g>
<g transform="rotate(144)">
<rect x="-2.75" y="-86.90" width="5.50" height="62.90" fill="#fff" stroke="#2a2a2a" stroke-width="1.1"/>
<path d="M6.00,-70.30 L6.00,-47.30 L-6.00,-37.50 L-6.00,-61.30z" fill="#fff" stroke="#2a2a2a" stroke-width="1.1" stroke-linejoin="miter"/>
<path d="M-15.75,-103.80 Q-12.76,-95.01 -6.75,-87.50 H6.75 Q12.76,-95.01 15.75,-103.80" fill="#fff" stroke="#111" stroke-width="1.45"/>
<path d="M-25.90,-173.60 H25.90 V-109.30 a5.50,5.50 0 0 1 -5.50,5.50 H-20.40 a5.50,5.50 0 0 1 -5.50,-5.50 z" fill="#fff"/>
<path d="M-25.90,-127.40 H25.90 V-109.30 a5.50,5.50 0 0 1 -5.50,5.50 H-20.40 a5.50,5.50 0 0 1 -5.50,-5.50 z" fill="url(#spk)"/>
<path d="M-20.12,-172.60 V-128.40" stroke="#a2a2a2" stroke-width="0.7" stroke-dasharray="10 2 1.5 2" stroke-dashoffset="4"/>
<path d="M-12.75,-172.60 V-128.40" stroke="#a2a2a2" stroke-width="0.7" stroke-dasharray="10 2 1.5 2" stroke-dashoffset="3"/>
<path d="M-5.98,-172.60 V-128.40" stroke="#a2a2a2" stroke-width="0.7" stroke-dasharray="10 2 1.5 2" stroke-dashoffset="4"/>
<path d="M0.20,-172.60 V-128.40" stroke="#a2a2a2" stroke-width="0.7" stroke-dasharray="10 2 1.5 2" stroke-dashoffset="0"/>
<path d="M5.98,-172.60 V-128.40" stroke="#a2a2a2" stroke-width="0.7" stroke-dasharray="10 2 1.5 2" stroke-dashoffset="4"/>
<path d="M12.75,-172.60 V-128.40" stroke="#a2a2a2" stroke-width="0.7" stroke-dasharray="10 2 1.5 2" stroke-dashoffset="3"/>
<path d="M19.92,-172.60 V-128.40" stroke="#a2a2a2" stroke-width="0.7" stroke-dasharray="10 2 1.5 2" stroke-dashoffset="4"/>
<path d="M-25.90,-127.40 H25.90" stroke="#222" stroke-width="1"/>
<path d="M-25.90,-173.60 H25.90 V-109.30 a5.50,5.50 0 0 1 -5.50,5.50 H-20.40 a5.50,5.50 0 0 1 -5.50,-5.50 z" fill="none" stroke="#222" stroke-width="1.05"/>
<rect x="-3.70" y="-93.10" width="7.40" height="7.20" fill="#000"/>
<rect x="-3.70" y="-24.00" width="7.40" height="7.40" fill="#000"/>

<path d="M-25.9,-173.6 H25.9" stroke="#c038b4" stroke-width="1.3"/>
</g>
<g transform="rotate(216)">
<rect x="-2.75" y="-86.90" width="5.50" height="62.90" fill="#fff" stroke="#2a2a2a" stroke-width="1.1"/>
<path d="M6.00,-70.30 L6.00,-47.30 L-6.00,-37.50 L-6.00,-61.30z" fill="#fff" stroke="#2a2a2a" stroke-width="1.1" stroke-linejoin="miter"/>
<path d="M-15.75,-103.80 Q-12.76,-95.01 -6.75,-87.50 H6.75 Q12.76,-95.01 15.75,-103.80" fill="#fff" stroke="#111" stroke-width="1.45"/>
<path d="M-25.90,-173.60 H25.90 V-109.30 a5.50,5.50 0 0 1 -5.50,5.50 H-20.40 a5.50,5.50 0 0 1 -5.50,-5.50 z" fill="#fff"/>
<path d="M-25.90,-127.40 H25.90 V-109.30 a5.50,5.50 0 0 1 -5.50,5.50 H-20.40 a5.50,5.50 0 0 1 -5.50,-5.50 z" fill="url(#spk)"/>
<path d="M-20.12,-172.60 V-128.40" stroke="#a2a2a2" stroke-width="0.7" stroke-dasharray="10 2 1.5 2" stroke-dashoffset="4"/>
<path d="M-12.75,-172.60 V-128.40" stroke="#a2a2a2" stroke-width="0.7" stroke-dasharray="10 2 1.5 2" stroke-dashoffset="3"/>
<path d="M-5.98,-172.60 V-128.40" stroke="#a2a2a2" stroke-width="0.7" stroke-dasharray="10 2 1.5 2" stroke-dashoffset="4"/>
<path d="M0.20,-172.60 V-128.40" stroke="#a2a2a2" stroke-width="0.7" stroke-dasharray="10 2 1.5 2" stroke-dashoffset="0"/>
<path d="M5.98,-172.60 V-128.40" stroke="#a2a2a2" stroke-width="0.7" stroke-dasharray="10 2 1.5 2" stroke-dashoffset="4"/>
<path d="M12.75,-172.60 V-128.40" stroke="#a2a2a2" stroke-width="0.7" stroke-dasharray="10 2 1.5 2" stroke-dashoffset="3"/>
<path d="M19.92,-172.60 V-128.40" stroke="#a2a2a2" stroke-width="0.7" stroke-dasharray="10 2 1.5 2" stroke-dashoffset="4"/>
<path d="M-25.90,-127.40 H25.90" stroke="#222" stroke-width="1"/>
<path d="M-25.90,-173.60 H25.90 V-109.30 a5.50,5.50 0 0 1 -5.50,5.50 H-20.40 a5.50,5.50 0 0 1 -5.50,-5.50 z" fill="none" stroke="#222" stroke-width="1.05"/>
<rect x="-3.70" y="-93.10" width="7.40" height="7.20" fill="#000"/>
<rect x="-3.70" y="-24.00" width="7.40" height="7.40" fill="#000"/>

<path d="M-25.9,-173.6 H25.9" stroke="#c038b4" stroke-width="1.3"/>
</g>
<g transform="rotate(288)">
<rect x="-2.75" y="-86.90" width="5.50" height="62.90" fill="#fff" stroke="#2a2a2a" stroke-width="1.1"/>
<path d="M6.00,-70.30 L6.00,-47.30 L-6.00,-37.50 L-6.00,-61.30z" fill="#fff" stroke="#2a2a2a" stroke-width="1.1" stroke-linejoin="miter"/>
<path d="M-15.75,-103.80 Q-12.76,-95.01 -6.75,-87.50 H6.75 Q12.76,-95.01 15.75,-103.80" fill="#fff" stroke="#111" stroke-width="1.45"/>
<path d="M-25.90,-173.60 H25.90 V-109.30 a5.50,5.50 0 0 1 -5.50,5.50 H-20.40 a5.50,5.50 0 0 1 -5.50,-5.50 z" fill="#fff"/>
<path d="M-25.90,-127.40 H25.90 V-109.30 a5.50,5.50 0 0 1 -5.50,5.50 H-20.40 a5.50,5.50 0 0 1 -5.50,-5.50 z" fill="url(#spk)"/>
<path d="M-20.12,-172.60 V-128.40" stroke="#a2a2a2" stroke-width="0.7" stroke-dasharray="10 2 1.5 2" stroke-dashoffset="4"/>
<path d="M-12.75,-172.60 V-128.40" stroke="#a2a2a2" stroke-width="0.7" stroke-dasharray="10 2 1.5 2" stroke-dashoffset="3"/>
<path d="M-5.98,-172.60 V-128.40" stroke="#a2a2a2" stroke-width="0.7" stroke-dasharray="10 2 1.5 2" stroke-dashoffset="4"/>
<path d="M0.20,-172.60 V-128.40" stroke="#a2a2a2" stroke-width="0.7" stroke-dasharray="10 2 1.5 2" stroke-dashoffset="0"/>
<path d="M5.98,-172.60 V-128.40" stroke="#a2a2a2" stroke-width="0.7" stroke-dasharray="10 2 1.5 2" stroke-dashoffset="4"/>
<path d="M12.75,-172.60 V-128.40" stroke="#a2a2a2" stroke-width="0.7" stroke-dasharray="10 2 1.5 2" stroke-dashoffset="3"/>
<path d="M19.92,-172.60 V-128.40" stroke="#a2a2a2" stroke-width="0.7" stroke-dasharray="10 2 1.5 2" stroke-dashoffset="4"/>
<path d="M-25.90,-127.40 H25.90" stroke="#222" stroke-width="1"/>
<path d="M-25.90,-173.60 H25.90 V-109.30 a5.50,5.50 0 0 1 -5.50,5.50 H-20.40 a5.50,5.50 0 0 1 -5.50,-5.50 z" fill="none" stroke="#222" stroke-width="1.05"/>
<rect x="-3.70" y="-93.10" width="7.40" height="7.20" fill="#000"/>
<rect x="-3.70" y="-24.00" width="7.40" height="7.40" fill="#000"/>

<path d="M-25.9,-173.6 H25.9" stroke="#c038b4" stroke-width="1.3"/>
</g>
</g>

<rect x="854.6" y="371" width="9.8" height="62" fill="#fff" stroke="#555" stroke-width="1.3"/>
<path d="M856.0,371 V433 M863.0,371 V433" stroke="#999" stroke-width="0.5"/>
<path d="M830.4,354.8 H888.5 V368.6 a2.5,2.5 0 0 1 -2.5,2.5 H832.9 a2.5,2.5 0 0 1 -2.5,-2.5z" fill="#fff" stroke="#2a2a2a" stroke-width="0.9"/>
<path d="M836.0,448.1 V435 a2.6,2.6 0 0 1 2.6,-2.6 H880 a2.6,2.6 0 0 1 2.6,2.6 V448.1z" fill="#fff" stroke="#2a2a2a" stroke-width="0.9"/>
<rect x="836.2" y="448.2" width="46.4" height="2.5" rx="1" fill="#fff" stroke="#111" stroke-width="1.3"/>
<rect x="856.1" y="429.7" width="6.9" height="22" fill="#8c8c8c" stroke="#444" stroke-width="0.8"/><rect x="854.4" y="451" width="10" height="2.8" fill="#fff" stroke="#666" stroke-width="0.8"/>
<path d="M856.2,432 h6.9 m-6.9,2.4 h6.9 m-6.9,2.4 h6.9 m-6.9,2.4 h6.9 m-6.9,2.4 h6.9 m-6.9,2.4 h6.9 m-6.9,2.4 h6.9 m-6.9,2.4 h6.9 m-6.9,2.4 h6.9 M859.6,429.6 V451" stroke="#444" stroke-width="0.6"/>
<rect x="767.5" y="438.4" width="68" height="5.8" fill="#fff" stroke="#2a2a2a" stroke-width="0.9"/>
<path d="M829.6,360.0 H823.2 A22,22 0 0 0 801.2,382 V435.4 H806.9 V382 A16.2,16.2 0 0 1 823.2,365.9 H829.6" fill="#fff" stroke="#2a2a2a" stroke-width="1"/>
<path d="M794.6,435.5 H819.0 L810.2,446.6 H786.0z" fill="#fff" stroke="#2a2a2a" stroke-width="0.9"/>
<g transform="translate(859.5,441.30) rotate(-90)">
<path d="M-16.10,-109.30 Q-13.04,-100.30 -4.20,-92.60 H4.20 Q13.04,-100.30 16.10,-109.30" fill="#fff" stroke="#111" stroke-width="1.45"/>
<path d="M-26.05,-179.50 H26.05 V-114.80 a5.50,5.50 0 0 1 -5.50,5.50 H-20.55 a5.50,5.50 0 0 1 -5.50,-5.50 z" fill="#fff"/>
<path d="M-26.05,-133.20 H26.05 V-114.80 a5.50,5.50 0 0 1 -5.50,5.50 H-20.55 a5.50,5.50 0 0 1 -5.50,-5.50 z" fill="url(#spk)"/>
<path d="M-20.04,-178.50 V-134.20" stroke="#a2a2a2" stroke-width="0.7" stroke-dasharray="10 2 1.5 2" stroke-dashoffset="4"/>
<path d="M-12.72,-178.50 V-134.20" stroke="#a2a2a2" stroke-width="0.7" stroke-dasharray="10 2 1.5 2" stroke-dashoffset="3"/>
<path d="M-5.41,-178.50 V-134.20" stroke="#a2a2a2" stroke-width="0.7" stroke-dasharray="10 2 1.5 2" stroke-dashoffset="2"/>
<path d="M-0.20,-178.50 V-134.20" stroke="#a2a2a2" stroke-width="0.7" stroke-dasharray="10 2 1.5 2" stroke-dashoffset="0"/>
<path d="M6.11,-178.50 V-134.20" stroke="#a2a2a2" stroke-width="0.7" stroke-dasharray="10 2 1.5 2" stroke-dashoffset="4"/>
<path d="M13.03,-178.50 V-134.20" stroke="#a2a2a2" stroke-width="0.7" stroke-dasharray="10 2 1.5 2" stroke-dashoffset="4"/>
<path d="M19.84,-178.50 V-134.20" stroke="#a2a2a2" stroke-width="0.7" stroke-dasharray="10 2 1.5 2" stroke-dashoffset="3"/>
<path d="M-26.05,-133.20 H26.05" stroke="#222" stroke-width="1"/>
<path d="M-26.05,-179.50 H26.05 V-114.80 a5.50,5.50 0 0 1 -5.50,5.50 H-20.55 a5.50,5.50 0 0 1 -5.50,-5.50 z" fill="none" stroke="#222" stroke-width="1.05"/>
<rect x="-3.50" y="-98.20" width="7.00" height="7.20" fill="#000"/>

</g>
<rect x="829.4" y="359.0" width="7.7" height="7.6" fill="#000"/>
<rect x="834.8" y="437.2" width="7.8" height="7.7" fill="#000"/>

<g transform="translate(1719,0) scale(-1,1)">
<rect x="767.5" y="438.4" width="68" height="5.8" fill="#fff" stroke="#2a2a2a" stroke-width="0.9"/>
<path d="M829.6,360.0 H823.2 A22,22 0 0 0 801.2,382 V435.4 H806.9 V382 A16.2,16.2 0 0 1 823.2,365.9 H829.6" fill="#fff" stroke="#2a2a2a" stroke-width="1"/>
<path d="M794.6,435.5 H819.0 L810.2,446.6 H786.0z" fill="#fff" stroke="#2a2a2a" stroke-width="0.9"/>
<g transform="translate(859.5,441.30) rotate(-90)">
<path d="M-16.10,-109.30 Q-13.04,-100.30 -4.20,-92.60 H4.20 Q13.04,-100.30 16.10,-109.30" fill="#fff" stroke="#111" stroke-width="1.45"/>
<path d="M-26.05,-179.50 H26.05 V-114.80 a5.50,5.50 0 0 1 -5.50,5.50 H-20.55 a5.50,5.50 0 0 1 -5.50,-5.50 z" fill="#fff"/>
<path d="M-26.05,-133.20 H26.05 V-114.80 a5.50,5.50 0 0 1 -5.50,5.50 H-20.55 a5.50,5.50 0 0 1 -5.50,-5.50 z" fill="url(#spk)"/>
<path d="M-20.04,-178.50 V-134.20" stroke="#a2a2a2" stroke-width="0.7" stroke-dasharray="10 2 1.5 2" stroke-dashoffset="4"/>
<path d="M-12.72,-178.50 V-134.20" stroke="#a2a2a2" stroke-width="0.7" stroke-dasharray="10 2 1.5 2" stroke-dashoffset="3"/>
<path d="M-5.41,-178.50 V-134.20" stroke="#a2a2a2" stroke-width="0.7" stroke-dasharray="10 2 1.5 2" stroke-dashoffset="2"/>
<path d="M-0.20,-178.50 V-134.20" stroke="#a2a2a2" stroke-width="0.7" stroke-dasharray="10 2 1.5 2" stroke-dashoffset="0"/>
<path d="M6.11,-178.50 V-134.20" stroke="#a2a2a2" stroke-width="0.7" stroke-dasharray="10 2 1.5 2" stroke-dashoffset="4"/>
<path d="M13.03,-178.50 V-134.20" stroke="#a2a2a2" stroke-width="0.7" stroke-dasharray="10 2 1.5 2" stroke-dashoffset="4"/>
<path d="M19.84,-178.50 V-134.20" stroke="#a2a2a2" stroke-width="0.7" stroke-dasharray="10 2 1.5 2" stroke-dashoffset="3"/>
<path d="M-26.05,-133.20 H26.05" stroke="#222" stroke-width="1"/>
<path d="M-26.05,-179.50 H26.05 V-114.80 a5.50,5.50 0 0 1 -5.50,5.50 H-20.55 a5.50,5.50 0 0 1 -5.50,-5.50 z" fill="none" stroke="#222" stroke-width="1.05"/>
<rect x="-3.50" y="-98.20" width="7.00" height="7.20" fill="#000"/>

</g>
<rect x="829.4" y="359.0" width="7.7" height="7.6" fill="#000"/>
<rect x="834.8" y="437.2" width="7.8" height="7.7" fill="#000"/>

</g>
<rect x="856.9" y="364.8" width="5.3" height="7.8" fill="#000"/>
<path d="M830.4,355 V343.2 H888.5 V354.8 H1103.8 V467.6 H1038.4 M1038.4,415.4 H1062.7 V467.6 M952.7,445 V486 H1038.4 V467.6" fill="none" stroke="#d63cd6" stroke-width="1.3"/>
<text x="859.90" y="339.80" font-family="'Liberation Sans', sans-serif" font-size="12.86" font-weight="bold" stroke="#111" stroke-width="0.32" fill="#111" text-anchor="middle" textLength="24.8" lengthAdjust="spacingAndGlyphs">100</text>

<text x="994.20" y="481.60" font-family="'Liberation Sans', sans-serif" font-size="13.14" font-weight="bold" stroke="#111" stroke-width="0.32" fill="#111" text-anchor="middle" textLength="22.8" lengthAdjust="spacingAndGlyphs">150</text>

<g transform="translate(1059.2,440.4) rotate(-90)"><text x="0.00" y="0.00" font-family="'Liberation Sans', sans-serif" font-size="13.71" font-weight="bold" stroke="#111" stroke-width="0.34" fill="#111" text-anchor="middle" textLength="15.8" lengthAdjust="spacingAndGlyphs">95</text>
</g>
<g transform="translate(1098.6,410.7) rotate(-90)"><text x="0.00" y="0.00" font-family="'Liberation Sans', sans-serif" font-size="13.71" font-weight="bold" stroke="#111" stroke-width="0.34" fill="#111" text-anchor="middle" textLength="25.8" lengthAdjust="spacingAndGlyphs">200</text>
</g>
<!-- left panel -->
<ellipse cx="360.0" cy="286.0" rx="81.7" ry="47.0" fill="#fff" stroke="#111" stroke-width="1.3"/>
<path d="M321.20,261.20 L323.60,264.86 L324.40,265.58 L323.70,266.17 L324.40,266.89 L323.70,267.48 L324.40,268.20 L323.70,268.78 L324.40,269.50 L323.70,270.09 L324.40,270.81 L323.70,271.40 L324.40,273.40 L322.16,271.80 L321.20,273.40 L320.24,271.80 L318.00,273.40 L318.70,271.40 L318.00,270.81 L318.70,270.09 L318.00,269.50 L318.70,268.78 L318.00,268.20 L318.70,267.48 L318.00,266.89 L318.70,266.17 L318.00,265.58 L318.80,264.86 L321.20,261.20z" fill="#111"/>
<rect x="320.66" y="264.49" width="1.09" height="8.54" rx="0.54" fill="#fff"/>

<path d="M391.70,261.20 L394.10,264.86 L394.90,265.58 L394.20,266.17 L394.90,266.89 L394.20,267.48 L394.90,268.20 L394.20,268.78 L394.90,269.50 L394.20,270.09 L394.90,270.81 L394.20,271.40 L394.90,273.40 L392.66,271.80 L391.70,273.40 L390.74,271.80 L388.50,273.40 L389.20,271.40 L388.50,270.81 L389.20,270.09 L388.50,269.50 L389.20,268.78 L388.50,268.20 L389.20,267.48 L388.50,266.89 L389.20,266.17 L388.50,265.58 L389.30,264.86 L391.70,261.20z" fill="#111"/>
<rect x="391.16" y="264.49" width="1.09" height="8.54" rx="0.54" fill="#fff"/>

<path d="M294.30,284.20 L300.10,278.60 H418.40 L412.60,284.20 z" fill="#fff" stroke="#333" stroke-width="0.70" stroke-linejoin="round"/>
<path d="M298.60,280.00 H418.40" stroke="#333" stroke-width="0.70"/>
<path d="M300.10,278.60 H418.40" stroke="#333" stroke-width="0.98"/>
<path d="M294.30,284.20 H412.60 L411.80,286.80 H294.30 z" fill="#fff" stroke="#333" stroke-width="0.70" stroke-linejoin="round"/>
<path d="M411.80,286.80 L418.40,280.50" stroke="#333" stroke-width="0.70"/>
<path d="M294.30,284.20 H412.60" stroke="#333" stroke-width="1.05"/>
<rect x="319.90" y="282.00" width="2.60" height="1.20" rx="0.60" fill="#333"/>
<rect x="337.00" y="282.00" width="2.60" height="1.20" rx="0.60" fill="#333"/>
<ellipse cx="353.50" cy="282.60" rx="0.83" ry="1.02" fill="#fff" stroke="#333" stroke-width="0.70"/>
<rect x="370.70" y="282.00" width="2.60" height="1.20" rx="0.60" fill="#333"/>
<rect x="390.20" y="282.00" width="2.60" height="1.20" rx="0.60" fill="#333"/>
<rect x="303.15" y="286.30" width="3.30" height="10.90" rx="0.82" fill="#111"/>
<ellipse cx="304.80" cy="282.40" rx="2.90" ry="1.90" fill="#111"/>
<ellipse cx="304.80" cy="283.46" rx="1.74" ry="0.57" fill="#ddd"/>
<rect x="405.15" y="286.30" width="3.30" height="10.90" rx="0.82" fill="#111"/>
<ellipse cx="406.80" cy="282.40" rx="2.90" ry="1.90" fill="#111"/>
<ellipse cx="406.80" cy="283.46" rx="1.74" ry="0.57" fill="#ddd"/>

<rect x="301.98" y="303.20" width="5.54" height="2.60" rx="0.8" fill="#fff" stroke="#b5b5b5" stroke-width="0.9"/>
<rect x="301.60" y="305.80" width="6.30" height="4.20" fill="#c9c9c9" stroke="#aaa" stroke-width="0.6"/>
<path d="M302.60,307.06 H306.90 M302.60,308.74 H306.90" stroke="#eee" stroke-width="0.7"/>

<path d="M321.20,293.20 L322.20,296.40 V303.80 H320.20 V296.40 z" fill="#111"/>
<ellipse cx="321.20" cy="303.80" rx="2.40" ry="1.70" fill="#111"/>
<ellipse cx="321.20" cy="304.23" rx="1.32" ry="0.68" fill="none" stroke="#fff" stroke-width="0.6"/>

<path d="M391.70,293.20 L392.70,296.40 V303.80 H390.70 V296.40 z" fill="#111"/>
<ellipse cx="391.70" cy="303.80" rx="2.40" ry="1.70" fill="#111"/>
<ellipse cx="391.70" cy="304.23" rx="1.32" ry="0.68" fill="none" stroke="#fff" stroke-width="0.6"/>

<path d="M394.77,313.85 A10.60,3.70 0 1 1 388.30,313.91" fill="none" stroke="#111" stroke-width="1.25"/>
<path d="M390.10,313.71 l-2.00,-1.10 l0.20,2.20 z" fill="#111"/>
<path d="M391.80,320.90 V307.30" stroke="#111" stroke-width="1.25" fill="none"/>
<path d="M389.80,308.80 L391.80,306.80 L393.80,308.80" stroke="#111" stroke-width="1.25" fill="none" stroke-linejoin="miter"/>

<text x="372.90" y="321.80" font-family="'Liberation Sans', sans-serif" font-size="12.86" font-weight="bold" stroke="#111" stroke-width="0.32" fill="#111" text-anchor="middle" >1</text>

<path d="M475.8,358.0 A61.5,43 0 1 1 481.8,375.7 L448.6,369.4 Z" fill="#fff" stroke="#111" stroke-width="1.3" stroke-linejoin="miter"/>
<clipPath id="c10"><ellipse cx="537" cy="357" rx="61" ry="42.5"/></clipPath>
<g clip-path="url(#c10)">
<path d="M545.6,312 L548.6,325 C547,338 538,344 534.6,351 M547.2,312 L550,325 C549.5,338 545.5,345 543,351 M550,325 C557.5,338 555,349 548.7,356.5" fill="none" stroke="#111" stroke-width="1.4"/>
<path d="M522,369 C522.5,380 524.5,390 528.6,401 M526.5,370 C525.5,382 527.5,392 531,401 M531.5,370 C530,378 527.8,384 526.8,388 M535,369.5 C533.5,378 529,384 527.6,390" fill="none" stroke="#111" stroke-width="1.4"/>
</g>
<path d="M522.2,334.7 H543.5 M525.2,342.8 H545.5 M554.6,341.9 H566 M508.2,371.9 H521 M535,371.6 H548.4 M530,376.9 H540.4" stroke="#111" stroke-width="1.1"/>
<text x="516.60" y="337.60" font-family="'Liberation Serif', sans-serif" font-size="8.57" stroke="#111" stroke-width="0.25" fill="#111" text-anchor="start" >N</text>

<text x="566.60" y="344.80" font-family="'Liberation Serif', sans-serif" font-size="8.57" stroke="#111" stroke-width="0.25" fill="#111" text-anchor="start" >L</text>

<text x="502.20" y="375.00" font-family="'Liberation Serif', sans-serif" font-size="8.57" stroke="#111" stroke-width="0.25" fill="#111" text-anchor="start" >N</text>

<text x="549.20" y="375.20" font-family="'Liberation Serif', sans-serif" font-size="8.00" stroke="#111" stroke-width="0.25" fill="#111" text-anchor="start" >L</text>

<circle cx="521.6" cy="342.8" r="3.4" fill="#fff" stroke="#111" stroke-width="1"/><path d="M519.4,342.1 h4.4 M520.2,343.9 h2.8" stroke="#111" stroke-width="0.9"/>
<circle cx="544.1" cy="376.9" r="3.4" fill="#fff" stroke="#111" stroke-width="1"/><path d="M541.2,376.9 h5.8 M544.1,374 v5.8" stroke="#111" stroke-width="0.9"/>
<g transform="translate(520.20,367.60) scale(0.970)">
<path d="M0,-9.5 L16,-8 L32.2,-11.7 L32.2,-4.8 L16,1.2 L0,-0.4z" fill="#fff" stroke="#111" stroke-width="1.2" stroke-linejoin="round"/>
<path d="M0,-9.5 L16,-8 L16,1.2 L0,-0.4z" fill="#111"/>
<path d="M16,-8 V1.2" stroke="#111" stroke-width="1.2"/>
<ellipse cx="3.20" cy="-4.01" rx="1.2" ry="2" fill="#555"/>
<ellipse cx="8.20" cy="-3.71" rx="1.2" ry="2" fill="#555"/>
<ellipse cx="13.00" cy="-3.42" rx="1.2" ry="2" fill="#555"/>
<path d="M5.50,-10.20 V-19.40 a2.3,1.2 0 0 1 4.6,0 V-10.20 z" fill="#fff" stroke="#111" stroke-width="1.3"/>
<ellipse cx="7.80" cy="-19.60" rx="2.3" ry="1.1" fill="#111"/>
<path d="M10.70,-10.10 V-18.80 a2.3,1.2 0 0 1 4.6,0 V-10.10 z" fill="#fff" stroke="#111" stroke-width="1.3"/>
<ellipse cx="13.00" cy="-19.00" rx="2.3" ry="1.1" fill="#111"/>
<path d="M16.70,-10.00 V-19.40 a2.3,1.2 0 0 1 4.6,0 V-10.00 z" fill="#fff" stroke="#111" stroke-width="1.3"/>
<ellipse cx="19.00" cy="-19.60" rx="2.3" ry="1.1" fill="#111"/>
<path d="M21.90,-9.90 V-18.80 a2.3,1.2 0 0 1 4.6,0 V-9.90 z" fill="#fff" stroke="#111" stroke-width="1.3"/>
<ellipse cx="24.20" cy="-19.00" rx="2.3" ry="1.1" fill="#111"/>
</g>

<path d="M577.5,348.2 L563.6,372.5 H591.4z" fill="#fff" stroke="#8a8a8a" stroke-width="0.9" stroke-linejoin="miter"/>
<path d="M576.0,352.8 L579.4,353.6 L576.9,360.4 L580.3,360.0 L577.9,368.2 L579.6,368.0 L577.2,372.6 L574.8,368.6 L576.3,368.6 L577.2,363.3 L573.4,363.8z" fill="#111"/>
<text x="485.20" y="403.30" font-family="'Liberation Sans', sans-serif" font-size="13.14" font-weight="bold" stroke="#111" stroke-width="0.32" fill="#111" text-anchor="middle" textLength="15.6" lengthAdjust="spacingAndGlyphs">10</text>

<path d="M349.6,389.5 C349.5,377 353,370.5 363,369.3 C376,367.8 386,367 392,368.4 C399,370 404,373.3 415.6,371.4 M355.2,400.2 C364,400 367.5,394 370.5,386 C374,377 378,370.5 384.5,369.5 C390,369.3 392,376 399,378.2 C405,380 411,377.5 415.2,376.6" fill="none" stroke="#111" stroke-width="1.7"/>
<path d="M411.8,378.8 L417.3,380.6" stroke="#111" stroke-width="1.3"/>
<path d="M416.5,383.9 L439.2,376.7 L454.5,381 L433.2,387.9z" fill="#fff" stroke="#111" stroke-width="1.2" stroke-linejoin="miter"/><circle cx="435.3" cy="381.7" r="1.1" fill="#111"/>
<g transform="translate(415.60,375.40) scale(1.000)">
<path d="M0,-9.5 L16,-8 L32.2,-11.7 L32.2,-4.8 L16,1.2 L0,-0.4z" fill="#fff" stroke="#111" stroke-width="1.2" stroke-linejoin="round"/>
<path d="M0,-9.5 L16,-8 L16,1.2 L0,-0.4z" fill="#111"/>
<path d="M16,-8 V1.2" stroke="#111" stroke-width="1.2"/>
<ellipse cx="3.20" cy="-4.01" rx="1.2" ry="2" fill="#555"/>
<ellipse cx="8.20" cy="-3.71" rx="1.2" ry="2" fill="#555"/>
<ellipse cx="13.00" cy="-3.42" rx="1.2" ry="2" fill="#555"/>
<path d="M5.50,-10.20 V-19.40 a2.3,1.2 0 0 1 4.6,0 V-10.20 z" fill="#fff" stroke="#111" stroke-width="1.3"/>
<ellipse cx="7.80" cy="-19.60" rx="2.3" ry="1.1" fill="#111"/>
<path d="M10.70,-10.10 V-18.80 a2.3,1.2 0 0 1 4.6,0 V-10.10 z" fill="#fff" stroke="#111" stroke-width="1.3"/>
<ellipse cx="13.00" cy="-19.00" rx="2.3" ry="1.1" fill="#111"/>
<path d="M16.70,-10.00 V-19.40 a2.3,1.2 0 0 1 4.6,0 V-10.00 z" fill="#fff" stroke="#111" stroke-width="1.3"/>
<ellipse cx="19.00" cy="-19.60" rx="2.3" ry="1.1" fill="#111"/>
<path d="M21.90,-9.90 V-18.80 a2.3,1.2 0 0 1 4.6,0 V-9.90 z" fill="#fff" stroke="#111" stroke-width="1.3"/>
<ellipse cx="24.20" cy="-19.00" rx="2.3" ry="1.1" fill="#111"/>
</g>

<text x="327.80" y="368.30" font-family="'Liberation Sans', sans-serif" font-size="12.57" font-weight="bold" stroke="#111" stroke-width="0.31" fill="#111" text-anchor="middle" textLength="8.18" lengthAdjust="spacingAndGlyphs" >2</text>

<path d="M346.2,368.25 A10.9,3.9 0 1 1 352.6,368.1" fill="none" stroke="#111" stroke-width="1.35"/><path d="M351.6,367.9 l3.4,-1.9 l0.2,3.2z" fill="#111"/>
<path d="M349.3,361.6 V373.5" stroke="#111" stroke-width="1.3"/><path d="M349.3,376.0 l-1.9,-3.4 h3.8z" fill="#111"/>
<path d="M350.4,407 V422" stroke="#111" stroke-width="1"/>
<rect x="345.3" y="389.4" width="10.3" height="3.2" fill="#fff" stroke="#111" stroke-width="1"/><path d="M348.2,389.4 v3.2 M352.8,389.4 v3.2" stroke="#111" stroke-width="0.8"/>
<ellipse cx="350.4" cy="395.20" rx="4.9" ry="1.75" fill="#111"/>
<ellipse cx="350.4" cy="398.90" rx="4.9" ry="1.75" fill="#111"/>
<ellipse cx="350.4" cy="402.60" rx="4.9" ry="1.75" fill="#111"/>
<ellipse cx="350.4" cy="405.90" rx="4.9" ry="1.75" fill="#111"/>
<rect x="346.2" y="426" width="8.3" height="56" fill="#fff" stroke="#555" stroke-width="0.8"/>
<rect x="324.5" y="411.1" width="52.0" height="15.4" rx="2" fill="#fff" stroke="#444" stroke-width="0.9"/>
<path d="M324,416.5 H318.5 A20,20 0 0 0 298.4,436.5 V484 H303.6 V436.5 A15,15 0 0 1 318.5,421.6 H324" fill="#fff" stroke="#2a2a2a" stroke-width="1"/>
<path d="M395.5,416.5 H400.5 A20,20 0 0 1 420.6,436.5 V484 H415.5 V436.5 A15,15 0 0 0 400.5,421.6 H395.5" fill="#fff" stroke="#2a2a2a" stroke-width="1"/>
<rect x="268.4" y="486.2" width="61" height="5.5" fill="#fff" stroke="#2a2a2a" stroke-width="0.9"/>
<rect x="390" y="486.2" width="62" height="5.5" fill="#fff" stroke="#2a2a2a" stroke-width="0.9"/>
<path d="M292.0,483.9 H313.8 L306.8,494.0 H284.6z" fill="#fff" stroke="#2a2a2a" stroke-width="0.9"/>
<path d="M405.1,483.8 H427.0 L434.5,493.9 H412.8z" fill="#fff" stroke="#2a2a2a" stroke-width="0.9"/>
<ellipse cx="326.9" cy="418.5" rx="3.6" ry="4.8" fill="#111"/><path d="M325,416.3 h3.6 M325,420.6 h3.6" stroke="#777" stroke-width="0.6"/>
<path d="M333.8,407 V436.5" stroke="#111" stroke-width="1"/>
<rect x="331.00" y="433.00" width="5.90" height="3.20" rx="0.8" fill="#fff" stroke="#b5b5b5" stroke-width="0.9"/>
<rect x="330.60" y="436.20" width="6.70" height="4.20" fill="#c9c9c9" stroke="#aaa" stroke-width="0.6"/>
<path d="M331.60,437.46 H336.30 M331.60,439.14 H336.30" stroke="#eee" stroke-width="0.7"/>

<rect x="348.1" y="421.1" width="5.0" height="6.8" fill="#000"/>
<text x="359.40" y="422.90" font-family="'Liberation Sans', sans-serif" font-size="12.29" font-weight="bold" stroke="#111" stroke-width="0.30" fill="#111" text-anchor="middle" textLength="8.00" lengthAdjust="spacingAndGlyphs" >4</text>

<rect x="368.0" y="413.6" width="2.0" height="9.6" fill="#888" stroke="#111" stroke-width="1.1"/><rect x="371.4" y="413.6" width="2.3" height="9.6" fill="#888" stroke="#111" stroke-width="1.1"/><path d="M369,416 h4 M369,420.8 h4" stroke="#111" stroke-width="0.8"/>
<path d="M374,418.6 H389.5" stroke="#111" stroke-width="1.1"/>
<rect x="389.1" y="415.5" width="6.8" height="6.6" fill="#000"/>
<path d="M393.60,408.50 L403.90,405.70 V407.30 H418.00 V409.70 H403.90 V411.30 z" fill="#fff" stroke="#111" stroke-width="0.9" stroke-linejoin="miter"/>

<path d="M408.1,410 V416.5" stroke="#111" stroke-width="1"/>
<text x="427.90" y="409.90" font-family="'Liberation Sans', sans-serif" font-size="12.86" font-weight="bold" stroke="#111" stroke-width="0.32" fill="#111" text-anchor="middle" textLength="8.37" lengthAdjust="spacingAndGlyphs" >3</text>

<path d="M336.24,447.82 A8.70,2.90 0 1 1 330.93,447.86" fill="none" stroke="#111" stroke-width="1.25"/>
<path d="M332.55,447.66 l-1.80,-0.99 l0.20,1.98 z" fill="#111"/>
<path d="M333.80,453.30 V443.40" stroke="#111" stroke-width="1.25" fill="none"/>
<path d="M332.00,444.70 L333.80,442.90 L335.60,444.70" stroke="#111" stroke-width="1.25" fill="none" stroke-linejoin="miter"/>

<text x="334.00" y="468.10" font-family="'Liberation Sans', sans-serif" font-size="12.14" font-weight="bold" stroke="#111" fill="#111" text-anchor="middle" textLength="9.9" lengthAdjust="spacingAndGlyphs" stroke-width="0.6">11</text>

<text x="365.40" y="476.20" font-family="'Liberation Sans', sans-serif" font-size="12.00" font-weight="bold" stroke="#111" stroke-width="0.29" fill="#111" text-anchor="middle" textLength="7.81" lengthAdjust="spacingAndGlyphs" >6</text>

<rect x="329.3" y="481.5" width="42.0" height="15.2" fill="#fff" stroke="#555" stroke-width="0.9"/>
<path d="M334,489 C340,492 338,499 330,503 C322,507 312,506 303,511 M347,488 C340,488 341,497 334,502 C326,507 314,508 309.5,517 M347,491 C342,494 343,503 336,507 C330,510 320,509 312,514 M349.5,503 C348,509 340,511 331,510 C322,509 316,511 311,516 M362.5,487.5 C357.5,488 358.5,494 356.5,500 C354,510 340,511 328,510.5" fill="none" stroke="#111" stroke-width="1.4"/>
<path d="M303.5,510.6 C309,506.5 316,505.6 324,504.2 M310.5,516.6 C314,511 321,509.6 329,509.6" fill="none" stroke="#111" stroke-width="2.7" stroke-linecap="round"/>
<path d="M297.6,511.6 L302.6,507.2 L306.4,511.6 L301.4,516.0z M304.8,518.2 L309.6,513.6 L313.4,518.0 L308.6,522.6z" fill="#111" stroke="#111" stroke-width="1.6" stroke-linejoin="round"/>
<ellipse cx="331.8" cy="489.2" rx="3.3" ry="4.6" fill="#111"/>
<rect x="345.3" y="481.4" width="10.6" height="2.2" fill="#111"/>
<path d="M347.2,483.6 V497.2 H353.9 V483.6" fill="#fff" stroke="#111" stroke-width="1.8"/>
<path d="M349.4,485 V495.5 M351.8,485 V495.5" stroke="#444" stroke-width="0.6"/>
<path d="M347.2,497 H353.9 V502 L352.6,504.8 H348.5 L347.2,502z" fill="#111"/>
<path d="M350.5,504.5 V529" stroke="#111" stroke-width="1"/>
<rect x="362.3" y="483.6" width="2.0" height="10" fill="#888" stroke="#111" stroke-width="1.1"/><rect x="365.6" y="483.6" width="2.2" height="10" fill="#888" stroke="#111" stroke-width="1.1"/><path d="M363,486 h4.5 M363,491 h4.5" stroke="#111" stroke-width="0.8"/>
<path d="M368,489 H384" stroke="#111" stroke-width="1.1"/>
<rect x="383.7" y="485.6" width="6.8" height="6.8" fill="#000"/>
<path d="M397.5,491.7 V502.8" stroke="#111" stroke-width="1"/>
<path d="M382.70,504.90 L394.20,502.10 V503.70 H406.50 V506.10 H394.20 V507.70 z" fill="#fff" stroke="#111" stroke-width="0.9" stroke-linejoin="miter"/>

<text x="414.40" y="513.40" font-family="'Liberation Sans', sans-serif" font-size="12.57" font-weight="bold" stroke="#111" stroke-width="0.31" fill="#111" text-anchor="middle" textLength="8.18" lengthAdjust="spacingAndGlyphs" >5</text>

<rect x="329.3" y="519.2" width="43.2" height="2.6" rx="1.2" fill="#777" stroke="#111" stroke-width="1"/>
<path d="M374.30,505.70 L377.50,517.50 H375.60 V529.70 H373.00 V517.50 H371.10 z" fill="#fff" stroke="#111" stroke-width="0.9" stroke-linejoin="miter"/>

<text x="385.90" y="529.40" font-family="'Liberation Sans', sans-serif" font-size="12.57" font-weight="bold" stroke="#111" stroke-width="0.31" fill="#111" text-anchor="middle" textLength="8.18" lengthAdjust="spacingAndGlyphs" >8</text>

<rect x="346.6" y="529.1" width="7.8" height="3.2" fill="#fff" stroke="#666" stroke-width="0.8"/>
<path d="M352.85,539.22 A8.40,2.90 0 1 1 347.73,539.26" fill="none" stroke="#111" stroke-width="1.25"/>
<path d="M349.35,539.06 l-1.80,-0.99 l0.20,1.98 z" fill="#111"/>
<path d="M350.50,545.00 V534.70" stroke="#111" stroke-width="1.25" fill="none"/>
<path d="M348.70,536.00 L350.50,534.20 L352.30,536.00" stroke="#111" stroke-width="1.25" fill="none" stroke-linejoin="miter"/>

<text x="351.40" y="560.00" font-family="'Liberation Sans', sans-serif" font-size="12.86" font-weight="bold" stroke="#111" stroke-width="0.32" fill="#111" text-anchor="middle" textLength="8.37" lengthAdjust="spacingAndGlyphs" >9</text>

<text x="299.60" y="536.20" font-family="'Liberation Sans', sans-serif" font-size="12.43" font-weight="bold" stroke="#111" stroke-width="0.30" fill="#111" text-anchor="middle" textLength="8.09" lengthAdjust="spacingAndGlyphs" >7</text>

<path d="M251.4,475.2 Q263.5,478.5 268.0,486 V492 Q263.5,500 251.4,503.4" fill="#fff" stroke="#111" stroke-width="1.3"/>
<path d="M189.3,466.1 H247.4 a4,4 0 0 1 4,4 V508.7 a4,4 0 0 1 -4,4 H189.3z" fill="#fff" stroke="#2a2a2a" stroke-width="1"/>
<rect x="261.3" y="486.2" width="7.2" height="5.7" fill="#000"/>
<path d="M529.3,465.7 H471.6 a4,4 0 0 0 -4,4 V508.4 a4,4 0 0 0 4,4 H529.3z" fill="#fff" stroke="#2a2a2a" stroke-width="0.9"/>
<path d="M466.9,475.8 Q455.5,478.5 451.8,486 V492 Q455.5,500 466.9,502.8" fill="#fff" stroke="#111" stroke-width="1.3"/>
<path d="M466.9,478.4 Q458.5,480.5 455.6,486 M466.9,500.4 Q458.5,498 455.6,492" fill="none" stroke="#111" stroke-width="1"/>
<rect x="451.5" y="486.0" width="5.2" height="5.9" fill="#000"/>
<rect x="465.6" y="477.3" width="26.8" height="23.9" fill="#4a4a4a" stroke="#222" stroke-width="0.8"/>
<path d="M467.4,477.6 V500.9 M469.3,477.6 V500.9 M471.2,477.6 V500.9 M473.1,477.6 V500.9 M475.0,477.6 V500.9 M476.9,477.6 V500.9 M478.8,477.6 V500.9 M480.7,477.6 V500.9 M482.6,477.6 V500.9 M484.5,477.6 V500.9 M486.4,477.6 V500.9 M488.3,477.6 V500.9 M490.2,477.6 V500.9" stroke="#888" stroke-width="0.6"/>
<rect x="468.2" y="487.0" width="6.2" height="4.8" fill="#fff" stroke="#222" stroke-width="0.7"/>
<rect x="508.1" y="472.1" width="2.6" height="32.6" fill="#555" stroke="#222" stroke-width="0.7"/>
<rect x="510.7" y="474.4" width="4.0" height="28" fill="#fff" stroke="#333" stroke-width="0.8"/><path d="M510.7,478.2 h4 M510.7,485.6 h4 M510.7,488.4 h4 M510.7,496.2 h4 M510.7,499 h4" stroke="#333" stroke-width="0.7"/>
<path d="M477.9,512.6 V538.8" stroke="#111" stroke-width="1"/>
<path d="M461.80,541.40 L474.00,538.80 V540.20 H486.00 V542.60 H474.00 V544.00 z" fill="#fff" stroke="#111" stroke-width="0.9" stroke-linejoin="miter"/>

<path d="M512.6,504.8 V527.2" stroke="#111" stroke-width="1"/>
<path d="M512.60,529.23 A4.00,11.70 0 1 1 509.48,537.78" fill="none" stroke="#111" stroke-width="1.30"/>
<circle cx="509.80" cy="536.96" r="1" fill="#111"/>
<path d="M517.40,540.70 H501.40" stroke="#111" stroke-width="1.30"/>
<path d="M500.40,540.70 l3,-1.9 v3.8z" fill="#111"/>

<text x="480.70" y="564.60" font-family="'Liberation Sans', sans-serif" font-size="12.57" font-weight="bold" stroke="#111" stroke-width="0.31" fill="#111" text-anchor="middle" textLength="13" lengthAdjust="spacingAndGlyphs">12</text>

<text x="512.70" y="564.60" font-family="'Liberation Sans', sans-serif" font-size="12.57" font-weight="bold" stroke="#111" stroke-width="0.31" fill="#111" text-anchor="middle" textLength="12.6" lengthAdjust="spacingAndGlyphs">13</text>

<text x="553.80" y="564.50" font-family="'Liberation Sans', sans-serif" font-size="12.57" font-weight="bold" stroke="#111" stroke-width="0.31" fill="#111" text-anchor="middle" textLength="13.3" lengthAdjust="spacingAndGlyphs">14</text>

<path d="M550.8,481.2 C555,480.5 556.5,474.2 565.3,474.0 A14.2,14.3 0 0 1 565.3,502.6 C556.5,502.4 555,496 550.8,495.4" fill="#fff" stroke="#111" stroke-width="1.2"/>
<path d="M551,483.4 L556.5,483.6 L560.6,481.4 M551,493.2 L556.5,493.0 L561.2,495.2" fill="none" stroke="#f2e23a" stroke-width="1.5"/>
<path d="M560.6,481.4 L567.6,485.8 L570.4,484.4 L569.6,491.2 L566.8,491.4 L561.2,495.2" fill="none" stroke="#e02626" stroke-width="1.2" stroke-linejoin="miter"/>
<path d="M550.9,480.3 H537.6 L533.4,486 V490.6 L537.6,496.3 H550.9z" fill="#111" stroke="#111" stroke-width="0.8" stroke-linejoin="round"/>
<path d="M540,480.6 v15.4 M542.6,480.6 v15.4 M545.2,480.6 v15.4 M547.8,480.6 v15.4" stroke="#444" stroke-width="0.5"/>
<path d="M551.4,503.4 V523.4" stroke="#111" stroke-width="1"/>
<path d="M551.08,525.23 A3.60,11.60 0 1 1 548.27,533.70" fill="none" stroke="#111" stroke-width="1.30"/>
<circle cx="548.56" cy="532.89" r="1" fill="#111"/>
<path d="M555.40,536.60 H540.60" stroke="#111" stroke-width="1.30"/>
<path d="M539.60,536.60 l3,-1.9 v3.8z" fill="#111"/>

<g transform="translate(373.50,748.50) scale(0.9000)">
<circle r="28.6" fill="#fff" stroke="#222" stroke-width="1"/>
<circle r="23.2" fill="#fff" stroke="#222" stroke-width="1.1"/>
<circle r="4.7" fill="#fff" stroke="#222" stroke-width="0.9"/>
<g transform="rotate(0)">
<rect x="-2.75" y="-86.90" width="5.50" height="62.90" fill="#fff" stroke="#2a2a2a" stroke-width="1.1"/>
<path d="M6.00,-70.30 L6.00,-47.30 L-6.00,-37.50 L-6.00,-61.30z" fill="#fff" stroke="#2a2a2a" stroke-width="1.1" stroke-linejoin="miter"/>
<path d="M-15.75,-103.80 Q-12.76,-95.01 -6.75,-87.50 H6.75 Q12.76,-95.01 15.75,-103.80" fill="#fff" stroke="#111" stroke-width="1.45"/>
<path d="M-25.90,-173.60 H25.90 V-109.30 a5.50,5.50 0 0 1 -5.50,5.50 H-20.40 a5.50,5.50 0 0 1 -5.50,-5.50 z" fill="#fff"/>
<path d="M-25.90,-127.40 H25.90 V-109.30 a5.50,5.50 0 0 1 -5.50,5.50 H-20.40 a5.50,5.50 0 0 1 -5.50,-5.50 z" fill="url(#spk)"/>
<path d="M-20.12,-172.60 V-128.40" stroke="#a2a2a2" stroke-width="0.7" stroke-dasharray="10 2 1.5 2" stroke-dashoffset="4"/>
<path d="M-12.75,-172.60 V-128.40" stroke="#a2a2a2" stroke-width="0.7" stroke-dasharray="10 2 1.5 2" stroke-dashoffset="3"/>
<path d="M-5.98,-172.60 V-128.40" stroke="#a2a2a2" stroke-width="0.7" stroke-dasharray="10 2 1.5 2" stroke-dashoffset="4"/>
<path d="M0.20,-172.60 V-128.40" stroke="#a2a2a2" stroke-width="0.7" stroke-dasharray="10 2 1.5 2" stroke-dashoffset="0"/>
<path d="M5.98,-172.60 V-128.40" stroke="#a2a2a2" stroke-width="0.7" stroke-dasharray="10 2 1.5 2" stroke-dashoffset="4"/>
<path d="M12.75,-172.60 V-128.40" stroke="#a2a2a2" stroke-width="0.7" stroke-dasharray="10 2 1.5 2" stroke-dashoffset="3"/>
<path d="M19.92,-172.60 V-128.40" stroke="#a2a2a2" stroke-width="0.7" stroke-dasharray="10 2 1.5 2" stroke-dashoffset="4"/>
<path d="M-25.90,-127.40 H25.90" stroke="#222" stroke-width="1"/>
<path d="M-25.90,-173.60 H25.90 V-109.30 a5.50,5.50 0 0 1 -5.50,5.50 H-20.40 a5.50,5.50 0 0 1 -5.50,-5.50 z" fill="none" stroke="#222" stroke-width="1.05"/>
<rect x="-3.70" y="-93.10" width="7.40" height="7.20" fill="#000"/>
<rect x="-3.70" y="-24.00" width="7.40" height="7.40" fill="#000"/>

</g>
<g transform="rotate(72)">
<rect x="-2.75" y="-86.90" width="5.50" height="62.90" fill="#fff" stroke="#2a2a2a" stroke-width="1.1"/>
<path d="M6.00,-70.30 L6.00,-47.30 L-6.00,-37.50 L-6.00,-61.30z" fill="#fff" stroke="#2a2a2a" stroke-width="1.1" stroke-linejoin="miter"/>
<path d="M-15.75,-103.80 Q-12.76,-95.01 -6.75,-87.50 H6.75 Q12.76,-95.01 15.75,-103.80" fill="#fff" stroke="#111" stroke-width="1.45"/>
<path d="M-25.90,-173.60 H25.90 V-109.30 a5.50,5.50 0 0 1 -5.50,5.50 H-20.40 a5.50,5.50 0 0 1 -5.50,-5.50 z" fill="#fff"/>
<path d="M-25.90,-127.40 H25.90 V-109.30 a5.50,5.50 0 0 1 -5.50,5.50 H-20.40 a5.50,5.50 0 0 1 -5.50,-5.50 z" fill="url(#spk)"/>
<path d="M-20.12,-172.60 V-128.40" stroke="#a2a2a2" stroke-width="0.7" stroke-dasharray="10 2 1.5 2" stroke-dashoffset="4"/>
<path d="M-12.75,-172.60 V-128.40" stroke="#a2a2a2" stroke-width="0.7" stroke-dasharray="10 2 1.5 2" stroke-dashoffset="3"/>
<path d="M-5.98,-172.60 V-128.40" stroke="#a2a2a2" stroke-width="0.7" stroke-dasharray="10 2 1.5 2" stroke-dashoffset="4"/>
<path d="M0.20,-172.60 V-128.40" stroke="#a2a2a2" stroke-width="0.7" stroke-dasharray="10 2 1.5 2" stroke-dashoffset="0"/>
<path d="M5.98,-172.60 V-128.40" stroke="#a2a2a2" stroke-width="0.7" stroke-dasharray="10 2 1.5 2" stroke-dashoffset="4"/>
<path d="M12.75,-172.60 V-128.40" stroke="#a2a2a2" stroke-width="0.7" stroke-dasharray="10 2 1.5 2" stroke-dashoffset="3"/>
<path d="M19.92,-172.60 V-128.40" stroke="#a2a2a2" stroke-width="0.7" stroke-dasharray="10 2 1.5 2" stroke-dashoffset="4"/>
<path d="M-25.90,-127.40 H25.90" stroke="#222" stroke-width="1"/>
<path d="M-25.90,-173.60 H25.90 V-109.30 a5.50,5.50 0 0 1 -5.50,5.50 H-20.40 a5.50,5.50 0 0 1 -5.50,-5.50 z" fill="none" stroke="#222" stroke-width="1.05"/>
<rect x="-3.70" y="-93.10" width="7.40" height="7.20" fill="#000"/>
<rect x="-3.70" y="-24.00" width="7.40" height="7.40" fill="#000"/>

</g>
<g transform="rotate(144)">
<rect x="-2.75" y="-86.90" width="5.50" height="62.90" fill="#fff" stroke="#2a2a2a" stroke-width="1.1"/>
<path d="M6.00,-70.30 L6.00,-47.30 L-6.00,-37.50 L-6.00,-61.30z" fill="#fff" stroke="#2a2a2a" stroke-width="1.1" stroke-linejoin="miter"/>
<path d="M-15.75,-103.80 Q-12.76,-95.01 -6.75,-87.50 H6.75 Q12.76,-95.01 15.75,-103.80" fill="#fff" stroke="#111" stroke-width="1.45"/>
<path d="M-25.90,-173.60 H25.90 V-109.30 a5.50,5.50 0 0 1 -5.50,5.50 H-20.40 a5.50,5.50 0 0 1 -5.50,-5.50 z" fill="#fff"/>
<path d="M-25.90,-127.40 H25.90 V-109.30 a5.50,5.50 0 0 1 -5.50,5.50 H-20.40 a5.50,5.50 0 0 1 -5.50,-5.50 z" fill="url(#spk)"/>
<path d="M-20.12,-172.60 V-128.40" stroke="#a2a2a2" stroke-width="0.7" stroke-dasharray="10 2 1.5 2" stroke-dashoffset="4"/>
<path d="M-12.75,-172.60 V-128.40" stroke="#a2a2a2" stroke-width="0.7" stroke-dasharray="10 2 1.5 2" stroke-dashoffset="3"/>
<path d="M-5.98,-172.60 V-128.40" stroke="#a2a2a2" stroke-width="0.7" stroke-dasharray="10 2 1.5 2" stroke-dashoffset="4"/>
<path d="M0.20,-172.60 V-128.40" stroke="#a2a2a2" stroke-width="0.7" stroke-dasharray="10 2 1.5 2" stroke-dashoffset="0"/>
<path d="M5.98,-172.60 V-128.40" stroke="#a2a2a2" stroke-width="0.7" stroke-dasharray="10 2 1.5 2" stroke-dashoffset="4"/>
<path d="M12.75,-172.60 V-128.40" stroke="#a2a2a2" stroke-width="0.7" stroke-dasharray="10 2 1.5 2" stroke-dashoffset="3"/>
<path d="M19.92,-172.60 V-128.40" stroke="#a2a2a2" stroke-width="0.7" stroke-dasharray="10 2 1.5 2" stroke-dashoffset="4"/>
<path d="M-25.90,-127.40 H25.90" stroke="#222" stroke-width="1"/>
<path d="M-25.90,-173.60 H25.90 V-109.30 a5.50,5.50 0 0 1 -5.50,5.50 H-20.40 a5.50,5.50 0 0 1 -5.50,-5.50 z" fill="none" stroke="#222" stroke-width="1.05"/>
<rect x="-3.70" y="-93.10" width="7.40" height="7.20" fill="#000"/>
<rect x="-3.70" y="-24.00" width="7.40" height="7.40" fill="#000"/>

</g>
<g transform="rotate(216)">
<rect x="-2.75" y="-86.90" width="5.50" height="62.90" fill="#fff" stroke="#2a2a2a" stroke-width="1.1"/>
<path d="M6.00,-70.30 L6.00,-47.30 L-6.00,-37.50 L-6.00,-61.30z" fill="#fff" stroke="#2a2a2a" stroke-width="1.1" stroke-linejoin="miter"/>
<path d="M-15.75,-103.80 Q-12.76,-95.01 -6.75,-87.50 H6.75 Q12.76,-95.01 15.75,-103.80" fill="#fff" stroke="#111" stroke-width="1.45"/>
<path d="M-25.90,-173.60 H25.90 V-109.30 a5.50,5.50 0 0 1 -5.50,5.50 H-20.40 a5.50,5.50 0 0 1 -5.50,-5.50 z" fill="#fff"/>
<path d="M-25.90,-127.40 H25.90 V-109.30 a5.50,5.50 0 0 1 -5.50,5.50 H-20.40 a5.50,5.50 0 0 1 -5.50,-5.50 z" fill="url(#spk)"/>
<path d="M-20.12,-172.60 V-128.40" stroke="#a2a2a2" stroke-width="0.7" stroke-dasharray="10 2 1.5 2" stroke-dashoffset="4"/>
<path d="M-12.75,-172.60 V-128.40" stroke="#a2a2a2" stroke-width="0.7" stroke-dasharray="10 2 1.5 2" stroke-dashoffset="3"/>
<path d="M-5.98,-172.60 V-128.40" stroke="#a2a2a2" stroke-width="0.7" stroke-dasharray="10 2 1.5 2" stroke-dashoffset="4"/>
<path d="M0.20,-172.60 V-128.40" stroke="#a2a2a2" stroke-width="0.7" stroke-dasharray="10 2 1.5 2" stroke-dashoffset="0"/>
<path d="M5.98,-172.60 V-128.40" stroke="#a2a2a2" stroke-width="0.7" stroke-dasharray="10 2 1.5 2" stroke-dashoffset="4"/>
<path d="M12.75,-172.60 V-128.40" stroke="#a2a2a2" stroke-width="0.7" stroke-dasharray="10 2 1.5 2" stroke-dashoffset="3"/>
<path d="M19.92,-172.60 V-128.40" stroke="#a2a2a2" stroke-width="0.7" stroke-dasharray="10 2 1.5 2" stroke-dashoffset="4"/>
<path d="M-25.90,-127.40 H25.90" stroke="#222" stroke-width="1"/>
<path d="M-25.90,-173.60 H25.90 V-109.30 a5.50,5.50 0 0 1 -5.50,5.50 H-20.40 a5.50,5.50 0 0 1 -5.50,-5.50 z" fill="none" stroke="#222" stroke-width="1.05"/>
<rect x="-3.70" y="-93.10" width="7.40" height="7.20" fill="#000"/>
<rect x="-3.70" y="-24.00" width="7.40" height="7.40" fill="#000"/>

</g>
<g transform="rotate(288)">
<rect x="-2.75" y="-86.90" width="5.50" height="62.90" fill="#fff" stroke="#2a2a2a" stroke-width="1.1"/>
<path d="M6.00,-70.30 L6.00,-47.30 L-6.00,-37.50 L-6.00,-61.30z" fill="#fff" stroke="#2a2a2a" stroke-width="1.1" stroke-linejoin="miter"/>
<path d="M-15.75,-103.80 Q-12.76,-95.01 -6.75,-87.50 H6.75 Q12.76,-95.01 15.75,-103.80" fill="#fff" stroke="#111" stroke-width="1.45"/>
<path d="M-25.90,-173.60 H25.90 V-109.30 a5.50,5.50 0 0 1 -5.50,5.50 H-20.40 a5.50,5.50 0 0 1 -5.50,-5.50 z" fill="#fff"/>
<path d="M-25.90,-127.40 H25.90 V-109.30 a5.50,5.50 0 0 1 -5.50,5.50 H-20.40 a5.50,5.50 0 0 1 -5.50,-5.50 z" fill="url(#spk)"/>
<path d="M-20.12,-172.60 V-128.40" stroke="#a2a2a2" stroke-width="0.7" stroke-dasharray="10 2 1.5 2" stroke-dashoffset="4"/>
<path d="M-12.75,-172.60 V-128.40" stroke="#a2a2a2" stroke-width="0.7" stroke-dasharray="10 2 1.5 2" stroke-dashoffset="3"/>
<path d="M-5.98,-172.60 V-128.40" stroke="#a2a2a2" stroke-width="0.7" stroke-dasharray="10 2 1.5 2" stroke-dashoffset="4"/>
<path d="M0.20,-172.60 V-128.40" stroke="#a2a2a2" stroke-width="0.7" stroke-dasharray="10 2 1.5 2" stroke-dashoffset="0"/>
<path d="M5.98,-172.60 V-128.40" stroke="#a2a2a2" stroke-width="0.7" stroke-dasharray="10 2 1.5 2" stroke-dashoffset="4"/>
<path d="M12.75,-172.60 V-128.40" stroke="#a2a2a2" stroke-width="0.7" stroke-dasharray="10 2 1.5 2" stroke-dashoffset="3"/>
<path d="M19.92,-172.60 V-128.40" stroke="#a2a2a2" stroke-width="0.7" stroke-dasharray="10 2 1.5 2" stroke-dashoffset="4"/>
<path d="M-25.90,-127.40 H25.90" stroke="#222" stroke-width="1"/>
<path d="M-25.90,-173.60 H25.90 V-109.30 a5.50,5.50 0 0 1 -5.50,5.50 H-20.40 a5.50,5.50 0 0 1 -5.50,-5.50 z" fill="none" stroke="#222" stroke-width="1.05"/>
<rect x="-3.70" y="-93.10" width="7.40" height="7.20" fill="#000"/>
<rect x="-3.70" y="-24.00" width="7.40" height="7.40" fill="#000"/>

</g>
</g>

</svg>
</body></html>
